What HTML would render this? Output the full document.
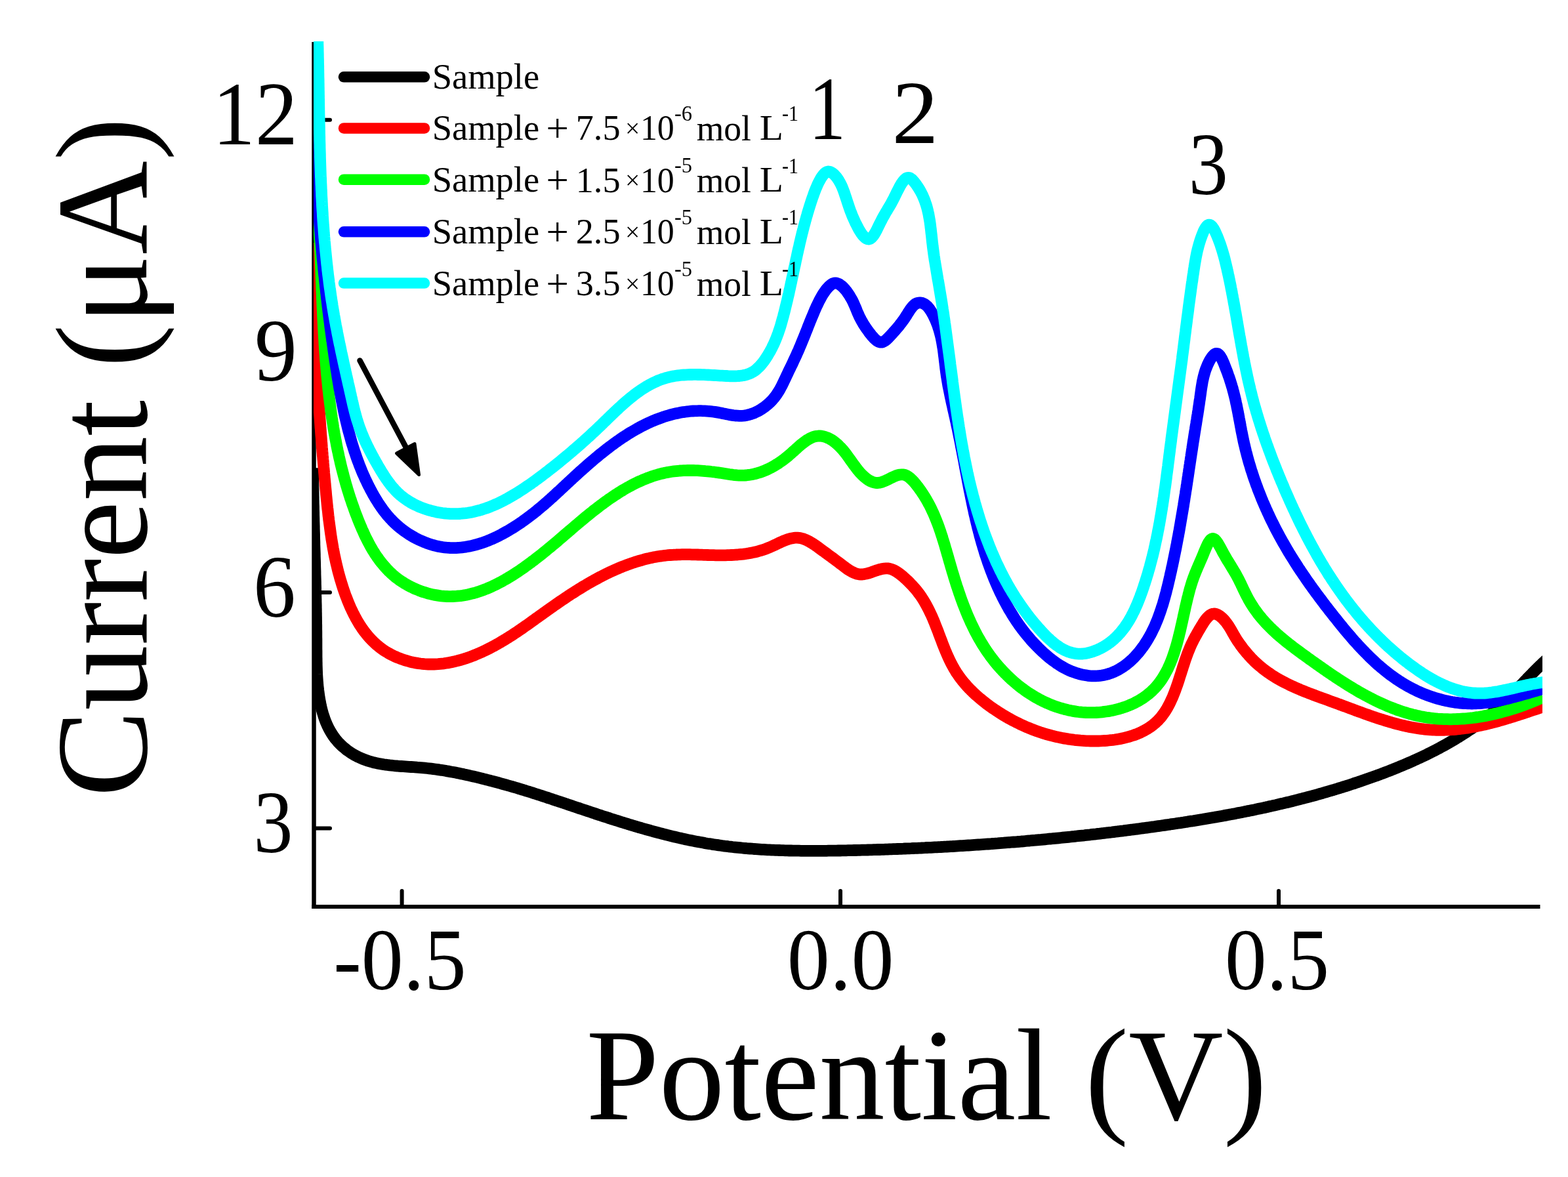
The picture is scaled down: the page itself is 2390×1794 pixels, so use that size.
<!DOCTYPE html>
<html><head><meta charset="utf-8"><title>Potential vs Current</title>
<style>html,body{margin:0;padding:0;background:#fff;}svg{display:block;}</style>
</head><body>
<svg width="2390" height="1794" viewBox="0 0 2390 1794">
<defs><clipPath id="pc"><rect x="478" y="63" width="1873" height="1330"/></clipPath></defs>
<rect width="2390" height="1794" fill="#fff"/>
<g><line x1="478.5" y1="64" x2="478.5" y2="1385" stroke="#000" stroke-width="6.5"/><line x1="475.3" y1="1382" x2="2347.5" y2="1382" stroke="#000" stroke-width="6"/><line x1="481" y1="182.8" x2="503" y2="182.8" stroke="#000" stroke-width="6" stroke-linecap="round"/><line x1="481" y1="542.5" x2="503" y2="542.5" stroke="#000" stroke-width="6" stroke-linecap="round"/><line x1="481" y1="903" x2="503" y2="903" stroke="#000" stroke-width="6" stroke-linecap="round"/><line x1="481" y1="1262.5" x2="503" y2="1262.5" stroke="#000" stroke-width="6" stroke-linecap="round"/><line x1="612.6" y1="1380" x2="612.6" y2="1358" stroke="#000" stroke-width="6" stroke-linecap="round"/><line x1="1281" y1="1380" x2="1281" y2="1358" stroke="#000" stroke-width="6" stroke-linecap="round"/><line x1="1949" y1="1380" x2="1949" y2="1358" stroke="#000" stroke-width="6" stroke-linecap="round"/></g>
<g clip-path="url(#pc)" fill="none" stroke-width="17.8" stroke-linejoin="round" stroke-linecap="butt"><path d="M477.1,713.2 L477.1,716.1 L477.1,719.1 L477.2,722.0 L477.2,725.0 L477.2,728.0 L477.3,730.9 L477.3,733.9 L477.3,736.9 L477.4,739.8 L477.4,742.8 L477.5,745.8 L477.5,748.7 L477.6,751.7 L477.6,754.7 L477.7,757.7 L477.7,760.6 L477.8,763.6 L477.8,766.6 L477.9,769.6 L478.0,772.6 L478.0,775.6 L478.1,778.5 L478.2,781.5 L478.2,784.5 L478.3,787.5 L478.4,790.5 L478.4,793.5 L478.5,796.5 L478.6,799.5 L478.7,802.5 L478.7,805.5 L478.8,808.5 L478.9,811.5 L479.0,814.5 L479.0,817.5 L479.1,820.5 L479.2,823.5 L479.3,826.5 L479.3,829.5 L479.4,832.5 L479.5,835.5 L479.6,838.5 L479.7,841.5 L479.8,844.5 L479.8,847.6 L479.9,850.6 L480.0,853.6 L480.1,856.6 L480.2,859.6 L480.2,862.6 L480.3,865.6 L480.4,868.6 L480.5,871.6 L480.5,874.7 L480.6,877.7 L480.7,880.7 L480.8,883.7 L480.9,886.7 L480.9,889.7 L481.0,892.7 L481.1,895.8 L481.1,898.8 L481.2,901.8 L481.3,904.8 L481.3,907.8 L481.4,910.8 L481.5,913.9 L481.5,916.9 L481.6,919.9 L481.7,922.9 L481.7,925.9 L481.8,928.9 L481.8,932.0 L481.9,935.0 L481.9,938.0 L482.0,941.0 L482.0,944.0 L482.1,947.0 L482.1,950.0 L482.2,953.0 L482.2,956.1 L482.2,959.1 L482.3,962.1 L482.3,965.1 L482.3,968.1 L482.3,971.1 L482.4,974.1 L482.4,977.1 L482.4,980.1 L482.4,983.1 L482.4,986.1 L482.4,989.1 L482.5,992.1 L482.5,995.2 L482.5,998.2 L482.5,1001.2 L482.6,1004.2 L482.6,1007.2 L482.7,1010.2 L482.7,1013.1 L482.8,1016.1 L482.9,1019.1 L483.0,1022.1 L483.1,1025.1 L483.2,1028.1 L483.4,1031.1 L483.6,1034.1 L483.8,1037.1 L484.0,1040.1 L484.3,1043.1 L484.5,1046.0 L484.9,1049.0 L485.2,1052.0 L485.6,1055.0 L486.0,1058.0 L486.4,1060.9 L486.9,1063.9 L487.4,1066.9 L487.9,1069.8 L488.5,1072.8 L489.1,1075.7 L489.8,1078.7 L490.5,1081.6 L491.3,1084.5 L492.1,1087.4 L493.0,1090.2 L493.9,1093.1 L494.9,1095.9 L495.9,1098.6 L497.0,1101.4 L498.2,1104.1 L499.4,1106.8 L500.7,1109.4 L502.1,1112.1 L503.5,1114.6 L505.0,1117.1 L506.6,1119.6 L508.2,1122.1 L509.9,1124.4 L511.7,1126.8 L513.6,1129.0 L515.6,1131.3 L517.6,1133.4 L519.7,1135.5 L521.9,1137.6 L524.2,1139.5 L526.5,1141.4 L528.8,1143.3 L531.3,1145.0 L533.7,1146.7 L536.2,1148.4 L538.7,1149.9 L541.3,1151.3 L543.9,1152.7 L546.5,1154.0 L549.1,1155.2 L551.8,1156.4 L554.4,1157.4 L557.1,1158.4 L559.8,1159.4 L562.6,1160.2 L565.3,1161.0 L568.1,1161.8 L570.9,1162.5 L573.7,1163.1 L576.5,1163.7 L579.4,1164.2 L582.2,1164.7 L585.1,1165.2 L588.0,1165.6 L590.9,1166.0 L593.8,1166.4 L596.7,1166.7 L599.7,1167.0 L602.6,1167.3 L605.6,1167.5 L608.6,1167.8 L611.6,1168.0 L614.6,1168.2 L617.6,1168.4 L620.6,1168.6 L623.6,1168.8 L626.6,1169.0 L629.7,1169.2 L632.7,1169.4 L635.8,1169.7 L638.8,1169.9 L641.9,1170.1 L645.0,1170.4 L648.0,1170.7 L651.1,1171.0 L654.2,1171.3 L657.3,1171.7 L660.4,1172.1 L663.4,1172.5 L666.5,1172.9 L669.6,1173.4 L672.7,1173.8 L675.8,1174.3 L678.9,1174.8 L682.0,1175.4 L685.0,1175.9 L688.1,1176.5 L691.2,1177.0 L694.3,1177.6 L697.3,1178.2 L700.4,1178.8 L703.4,1179.5 L706.5,1180.1 L709.5,1180.8 L712.6,1181.4 L715.6,1182.1 L718.6,1182.8 L721.6,1183.5 L724.6,1184.2 L727.6,1184.9 L730.6,1185.6 L733.6,1186.3 L736.5,1187.1 L739.5,1187.8 L742.4,1188.6 L745.4,1189.3 L748.3,1190.1 L751.2,1190.8 L754.1,1191.6 L757.0,1192.4 L759.9,1193.2 L762.8,1194.0 L765.7,1194.8 L768.6,1195.6 L771.5,1196.4 L774.3,1197.2 L777.2,1198.0 L780.1,1198.8 L782.9,1199.7 L785.8,1200.5 L788.6,1201.3 L791.4,1202.2 L794.3,1203.1 L797.1,1203.9 L799.9,1204.8 L802.8,1205.7 L805.6,1206.5 L808.4,1207.4 L811.2,1208.3 L814.0,1209.2 L816.8,1210.1 L819.6,1211.0 L822.4,1211.9 L825.2,1212.8 L828.0,1213.7 L830.8,1214.6 L833.6,1215.5 L836.4,1216.5 L839.2,1217.4 L842.0,1218.3 L844.8,1219.3 L847.6,1220.2 L850.4,1221.1 L853.2,1222.1 L856.1,1223.0 L858.9,1223.9 L861.7,1224.9 L864.5,1225.8 L867.3,1226.8 L870.1,1227.7 L872.9,1228.7 L875.7,1229.6 L878.6,1230.6 L881.4,1231.5 L884.2,1232.5 L887.0,1233.4 L889.9,1234.4 L892.7,1235.3 L895.5,1236.2 L898.4,1237.2 L901.2,1238.1 L904.0,1239.1 L906.9,1240.0 L909.7,1241.0 L912.6,1241.9 L915.4,1242.8 L918.3,1243.8 L921.1,1244.7 L924.0,1245.6 L926.9,1246.5 L929.7,1247.5 L932.6,1248.4 L935.4,1249.3 L938.3,1250.2 L941.2,1251.1 L944.0,1252.0 L946.9,1252.9 L949.8,1253.8 L952.7,1254.7 L955.6,1255.6 L958.4,1256.5 L961.3,1257.3 L964.2,1258.2 L967.1,1259.1 L970.0,1259.9 L972.9,1260.8 L975.8,1261.6 L978.7,1262.5 L981.5,1263.3 L984.4,1264.1 L987.3,1264.9 L990.2,1265.7 L993.1,1266.5 L996.1,1267.3 L999.0,1268.1 L1001.9,1268.9 L1004.8,1269.7 L1007.7,1270.4 L1010.6,1271.2 L1013.5,1271.9 L1016.4,1272.7 L1019.4,1273.4 L1022.3,1274.1 L1025.2,1274.8 L1028.1,1275.5 L1031.0,1276.2 L1034.0,1276.9 L1036.9,1277.5 L1039.8,1278.2 L1042.8,1278.8 L1045.7,1279.5 L1048.6,1280.1 L1051.6,1280.7 L1054.5,1281.3 L1057.4,1281.9 L1060.4,1282.5 L1063.3,1283.0 L1066.3,1283.6 L1069.2,1284.1 L1072.1,1284.6 L1075.1,1285.2 L1078.0,1285.7 L1081.0,1286.1 L1083.9,1286.6 L1086.9,1287.1 L1089.8,1287.5 L1092.8,1287.9 L1095.8,1288.4 L1098.7,1288.8 L1101.7,1289.2 L1104.6,1289.6 L1107.6,1289.9 L1110.5,1290.3 L1113.5,1290.6 L1116.5,1291.0 L1119.4,1291.3 L1122.4,1291.6 L1125.4,1291.9 L1128.3,1292.2 L1131.3,1292.5 L1134.3,1292.8 L1137.2,1293.0 L1140.2,1293.3 L1143.2,1293.5 L1146.2,1293.7 L1149.1,1294.0 L1152.1,1294.2 L1155.1,1294.4 L1158.1,1294.6 L1161.0,1294.8 L1164.0,1294.9 L1167.0,1295.1 L1170.0,1295.3 L1173.0,1295.4 L1175.9,1295.6 L1178.9,1295.7 L1181.9,1295.8 L1184.9,1295.9 L1187.9,1296.0 L1190.9,1296.1 L1193.9,1296.2 L1196.8,1296.3 L1199.8,1296.4 L1202.8,1296.5 L1205.8,1296.5 L1208.8,1296.6 L1211.8,1296.6 L1214.8,1296.7 L1217.8,1296.7 L1220.8,1296.8 L1223.8,1296.8 L1226.8,1296.8 L1229.8,1296.8 L1232.7,1296.9 L1235.7,1296.9 L1238.7,1296.9 L1241.7,1296.9 L1244.7,1296.9 L1247.7,1296.8 L1250.7,1296.8 L1253.7,1296.8 L1256.7,1296.8 L1259.7,1296.8 L1262.7,1296.7 L1265.7,1296.7 L1268.7,1296.6 L1271.7,1296.6 L1274.7,1296.6 L1277.7,1296.5 L1280.7,1296.5 L1283.7,1296.4 L1286.7,1296.3 L1289.7,1296.3 L1292.7,1296.2 L1295.7,1296.2 L1298.7,1296.1 L1301.7,1296.0 L1304.7,1296.0 L1307.7,1295.9 L1310.7,1295.8 L1313.7,1295.7 L1316.8,1295.7 L1319.8,1295.6 L1322.8,1295.5 L1325.8,1295.4 L1328.8,1295.3 L1331.8,1295.2 L1334.8,1295.1 L1337.8,1295.0 L1340.8,1295.0 L1343.8,1294.9 L1346.8,1294.8 L1349.8,1294.7 L1352.8,1294.6 L1355.8,1294.4 L1358.8,1294.3 L1361.8,1294.2 L1364.8,1294.1 L1367.8,1294.0 L1370.8,1293.9 L1373.8,1293.8 L1376.8,1293.7 L1379.8,1293.5 L1382.9,1293.4 L1385.9,1293.3 L1388.9,1293.2 L1391.9,1293.0 L1394.9,1292.9 L1397.9,1292.8 L1400.9,1292.6 L1403.9,1292.5 L1406.9,1292.3 L1409.9,1292.2 L1412.9,1292.0 L1415.9,1291.9 L1418.9,1291.8 L1421.9,1291.6 L1424.9,1291.4 L1427.9,1291.3 L1430.9,1291.1 L1433.9,1291.0 L1436.9,1290.8 L1439.9,1290.6 L1442.9,1290.5 L1446.0,1290.3 L1449.0,1290.1 L1452.0,1290.0 L1455.0,1289.8 L1458.0,1289.6 L1461.0,1289.4 L1464.0,1289.2 L1467.0,1289.1 L1470.0,1288.9 L1473.0,1288.7 L1476.0,1288.5 L1479.0,1288.3 L1482.0,1288.1 L1485.0,1287.9 L1488.0,1287.7 L1491.0,1287.5 L1494.0,1287.3 L1497.0,1287.1 L1500.0,1286.9 L1503.0,1286.7 L1506.0,1286.5 L1509.0,1286.3 L1512.0,1286.0 L1515.0,1285.8 L1518.0,1285.6 L1521.0,1285.4 L1524.0,1285.1 L1527.0,1284.9 L1530.0,1284.7 L1533.0,1284.4 L1536.0,1284.2 L1539.0,1284.0 L1542.0,1283.7 L1545.0,1283.5 L1548.0,1283.3 L1551.0,1283.0 L1554.0,1282.8 L1557.0,1282.5 L1560.0,1282.3 L1563.0,1282.0 L1566.0,1281.7 L1569.0,1281.5 L1572.0,1281.2 L1575.0,1280.9 L1578.0,1280.7 L1581.0,1280.4 L1583.9,1280.1 L1586.9,1279.9 L1589.9,1279.6 L1592.9,1279.3 L1595.9,1279.0 L1598.9,1278.7 L1601.9,1278.5 L1604.9,1278.2 L1607.9,1277.9 L1610.9,1277.6 L1613.9,1277.3 L1616.9,1277.0 L1619.8,1276.7 L1622.8,1276.4 L1625.8,1276.1 L1628.8,1275.8 L1631.8,1275.5 L1634.8,1275.2 L1637.8,1274.9 L1640.7,1274.5 L1643.7,1274.2 L1646.7,1273.9 L1649.7,1273.6 L1652.7,1273.3 L1655.7,1272.9 L1658.7,1272.6 L1661.6,1272.3 L1664.6,1271.9 L1667.6,1271.6 L1670.6,1271.3 L1673.6,1270.9 L1676.5,1270.6 L1679.5,1270.2 L1682.5,1269.9 L1685.5,1269.5 L1688.4,1269.2 L1691.4,1268.8 L1694.4,1268.5 L1697.4,1268.1 L1700.3,1267.7 L1703.3,1267.4 L1706.3,1267.0 L1709.3,1266.6 L1712.2,1266.3 L1715.2,1265.9 L1718.2,1265.5 L1721.2,1265.1 L1724.1,1264.7 L1727.1,1264.4 L1730.1,1264.0 L1733.0,1263.6 L1736.0,1263.2 L1739.0,1262.8 L1741.9,1262.4 L1744.9,1262.0 L1747.9,1261.6 L1750.8,1261.2 L1753.8,1260.8 L1756.8,1260.4 L1759.7,1260.0 L1762.7,1259.5 L1765.6,1259.1 L1768.6,1258.7 L1771.6,1258.3 L1774.5,1257.9 L1777.5,1257.4 L1780.4,1257.0 L1783.4,1256.6 L1786.3,1256.1 L1789.3,1255.7 L1792.2,1255.3 L1795.2,1254.8 L1798.2,1254.4 L1801.1,1253.9 L1804.1,1253.5 L1807.0,1253.0 L1810.0,1252.6 L1812.9,1252.1 L1815.8,1251.6 L1818.8,1251.2 L1821.7,1250.7 L1824.7,1250.2 L1827.6,1249.7 L1830.6,1249.2 L1833.5,1248.8 L1836.5,1248.3 L1839.4,1247.8 L1842.3,1247.3 L1845.3,1246.8 L1848.2,1246.3 L1851.2,1245.8 L1854.1,1245.2 L1857.0,1244.7 L1860.0,1244.2 L1862.9,1243.7 L1865.8,1243.1 L1868.8,1242.6 L1871.7,1242.1 L1874.6,1241.5 L1877.5,1241.0 L1880.5,1240.4 L1883.4,1239.9 L1886.3,1239.3 L1889.2,1238.7 L1892.2,1238.2 L1895.1,1237.6 L1898.0,1237.0 L1900.9,1236.4 L1903.9,1235.9 L1906.8,1235.3 L1909.7,1234.7 L1912.6,1234.1 L1915.5,1233.4 L1918.4,1232.8 L1921.4,1232.2 L1924.3,1231.6 L1927.2,1231.0 L1930.1,1230.3 L1933.0,1229.7 L1935.9,1229.0 L1938.8,1228.4 L1941.7,1227.7 L1944.6,1227.1 L1947.5,1226.4 L1950.4,1225.7 L1953.3,1225.0 L1956.2,1224.4 L1959.1,1223.7 L1962.0,1223.0 L1964.9,1222.3 L1967.8,1221.6 L1970.7,1220.8 L1973.6,1220.1 L1976.5,1219.4 L1979.4,1218.7 L1982.3,1217.9 L1985.2,1217.2 L1988.1,1216.4 L1991.0,1215.7 L1993.9,1214.9 L1996.8,1214.1 L1999.6,1213.4 L2002.5,1212.6 L2005.4,1211.8 L2008.3,1211.0 L2011.2,1210.2 L2014.0,1209.4 L2016.9,1208.5 L2019.8,1207.7 L2022.7,1206.9 L2025.5,1206.0 L2028.4,1205.2 L2031.3,1204.3 L2034.2,1203.5 L2037.0,1202.6 L2039.9,1201.7 L2042.8,1200.9 L2045.6,1200.0 L2048.5,1199.1 L2051.3,1198.2 L2054.2,1197.3 L2057.1,1196.3 L2059.9,1195.4 L2062.8,1194.5 L2065.6,1193.5 L2068.5,1192.6 L2071.3,1191.6 L2074.2,1190.7 L2077.0,1189.7 L2079.9,1188.7 L2082.7,1187.7 L2085.6,1186.7 L2088.4,1185.7 L2091.3,1184.7 L2094.1,1183.7 L2097.0,1182.7 L2099.8,1181.6 L2102.6,1180.6 L2105.5,1179.5 L2108.3,1178.5 L2111.1,1177.4 L2114.0,1176.3 L2116.8,1175.2 L2119.6,1174.1 L2122.4,1173.0 L2125.2,1171.9 L2128.0,1170.7 L2130.8,1169.6 L2133.6,1168.4 L2136.4,1167.3 L2139.2,1166.1 L2142.0,1164.9 L2144.8,1163.7 L2147.6,1162.5 L2150.3,1161.3 L2153.1,1160.1 L2155.9,1158.8 L2158.6,1157.6 L2161.4,1156.3 L2164.1,1155.1 L2166.9,1153.8 L2169.6,1152.5 L2172.3,1151.2 L2175.0,1149.9 L2177.7,1148.5 L2180.4,1147.2 L2183.1,1145.8 L2185.8,1144.5 L2188.5,1143.1 L2191.2,1141.7 L2193.8,1140.3 L2196.5,1138.8 L2199.1,1137.4 L2201.8,1136.0 L2204.4,1134.5 L2207.0,1133.0 L2209.6,1131.5 L2212.2,1130.0 L2214.8,1128.5 L2217.4,1127.0 L2219.9,1125.4 L2222.5,1123.9 L2225.0,1122.3 L2227.6,1120.7 L2230.1,1119.1 L2232.6,1117.5 L2235.1,1115.9 L2237.6,1114.2 L2240.1,1112.5 L2242.6,1110.9 L2245.0,1109.2 L2247.5,1107.4 L2249.9,1105.7 L2252.3,1104.0 L2254.7,1102.2 L2257.1,1100.4 L2259.5,1098.6 L2261.9,1096.8 L2264.2,1095.0 L2266.6,1093.1 L2268.9,1091.3 L2271.2,1089.4 L2273.5,1087.5 L2275.8,1085.6 L2278.1,1083.7 L2280.3,1081.7 L2282.6,1079.7 L2284.8,1077.8 L2287.0,1075.8 L2289.2,1073.7 L2291.4,1071.7 L2293.5,1069.6 L2295.7,1067.6 L2297.8,1065.5 L2299.9,1063.4 L2302.0,1061.3 L2304.1,1059.1 L2306.2,1057.0 L2308.3,1054.8 L2310.4,1052.7 L2312.5,1050.5 L2314.6,1048.4 L2316.6,1046.2 L2318.7,1044.0 L2320.8,1041.8 L2322.8,1039.7 L2324.9,1037.5 L2327.0,1035.3 L2329.0,1033.1 L2331.1,1031.0 L2333.2,1028.8 L2335.3,1026.7 L2337.4,1024.5 L2339.5,1022.4 L2341.6,1020.3 L2343.8,1018.1 L2345.9,1016.0 L2348.1,1013.9 L2350.2,1011.9 L2352.4,1009.8 L2354.6,1007.8 L2356.8,1005.8 L2359.1,1003.8 L2361.3,1001.8 L2363.6,999.8 L2365.9,997.9" stroke="#000000"/>
<path d="M479.2,370.1 L479.2,373.1 L479.2,376.0 L479.1,379.0 L479.1,382.0 L479.1,385.0 L479.1,388.0 L479.1,391.0 L479.0,394.0 L479.0,397.0 L479.0,399.9 L479.0,402.9 L479.0,405.9 L479.0,408.9 L479.0,411.9 L479.0,414.9 L479.0,417.9 L479.1,420.9 L479.1,423.9 L479.1,426.9 L479.1,429.9 L479.2,432.9 L479.2,435.9 L479.2,438.9 L479.3,441.8 L479.3,444.8 L479.3,447.8 L479.4,450.8 L479.4,453.8 L479.5,456.8 L479.5,459.8 L479.6,462.8 L479.7,465.8 L479.7,468.8 L479.8,471.8 L479.8,474.8 L479.9,477.8 L480.0,480.8 L480.1,483.8 L480.2,486.8 L480.2,489.8 L480.3,492.8 L480.4,495.8 L480.5,498.8 L480.6,501.8 L480.7,504.8 L480.8,507.8 L480.9,510.8 L481.0,513.8 L481.1,516.9 L481.2,519.9 L481.3,522.9 L481.4,525.9 L481.6,528.9 L481.7,531.9 L481.8,534.9 L481.9,537.9 L482.1,540.9 L482.2,543.9 L482.3,546.9 L482.5,549.9 L482.6,552.9 L482.7,555.9 L482.9,558.9 L483.0,561.9 L483.2,564.9 L483.3,567.9 L483.5,570.9 L483.6,573.9 L483.8,576.9 L484.0,579.9 L484.1,582.9 L484.3,585.9 L484.5,588.9 L484.6,591.9 L484.8,594.9 L485.0,597.9 L485.2,600.9 L485.3,603.9 L485.5,606.9 L485.7,609.9 L485.9,612.9 L486.1,615.9 L486.3,618.9 L486.5,621.9 L486.7,624.9 L486.9,627.9 L487.1,630.9 L487.3,633.9 L487.5,636.9 L487.7,639.9 L487.9,642.9 L488.1,645.9 L488.3,648.9 L488.5,651.9 L488.8,654.9 L489.0,657.9 L489.2,660.9 L489.4,663.9 L489.7,666.9 L489.9,669.9 L490.1,672.9 L490.4,675.8 L490.6,678.8 L490.8,681.8 L491.1,684.8 L491.3,687.8 L491.6,690.8 L491.8,693.8 L492.1,696.8 L492.3,699.8 L492.6,702.7 L492.8,705.7 L493.1,708.7 L493.3,711.7 L493.6,714.7 L493.9,717.7 L494.1,720.7 L494.4,723.6 L494.6,726.6 L494.9,729.6 L495.2,732.6 L495.5,735.6 L495.7,738.5 L496.0,741.5 L496.3,744.5 L496.6,747.5 L496.9,750.4 L497.1,753.4 L497.4,756.4 L497.7,759.4 L498.0,762.3 L498.3,765.3 L498.6,768.3 L498.9,771.2 L499.2,774.2 L499.6,777.2 L499.9,780.1 L500.2,783.1 L500.5,786.1 L500.9,789.0 L501.2,792.0 L501.6,794.9 L502.0,797.9 L502.4,800.9 L502.8,803.8 L503.2,806.8 L503.6,809.7 L504.0,812.7 L504.4,815.6 L504.9,818.6 L505.3,821.5 L505.8,824.4 L506.3,827.4 L506.8,830.3 L507.3,833.3 L507.8,836.2 L508.4,839.1 L508.9,842.1 L509.5,845.0 L510.1,847.9 L510.7,850.8 L511.4,853.8 L512.0,856.7 L512.7,859.6 L513.4,862.5 L514.1,865.4 L514.8,868.3 L515.5,871.2 L516.3,874.1 L517.1,877.0 L517.9,879.9 L518.7,882.8 L519.6,885.7 L520.5,888.6 L521.4,891.5 L522.3,894.4 L523.2,897.3 L524.2,900.2 L525.2,903.0 L526.2,905.9 L527.3,908.8 L528.4,911.6 L529.5,914.5 L530.6,917.3 L531.8,920.2 L533.0,923.0 L534.2,925.8 L535.5,928.5 L536.8,931.3 L538.1,934.0 L539.5,936.8 L540.9,939.4 L542.3,942.1 L543.8,944.8 L545.3,947.4 L546.8,949.9 L548.4,952.5 L550.1,955.0 L551.7,957.5 L553.4,959.9 L555.2,962.3 L557.0,964.7 L558.9,967.0 L560.7,969.3 L562.7,971.5 L564.7,973.7 L566.7,975.8 L568.8,977.9 L570.9,979.9 L573.1,981.9 L575.3,983.8 L577.6,985.7 L579.9,987.5 L582.3,989.2 L584.7,990.9 L587.2,992.6 L589.8,994.1 L592.3,995.6 L595.0,997.1 L597.6,998.5 L600.3,999.8 L603.0,1001.0 L605.8,1002.2 L608.6,1003.3 L611.4,1004.4 L614.3,1005.4 L617.1,1006.4 L620.0,1007.2 L623.0,1008.0 L625.9,1008.8 L628.8,1009.5 L631.8,1010.1 L634.8,1010.6 L637.8,1011.1 L640.8,1011.5 L643.8,1011.8 L646.8,1012.1 L649.8,1012.3 L652.8,1012.5 L655.8,1012.5 L658.8,1012.5 L661.8,1012.5 L664.8,1012.4 L667.8,1012.2 L670.8,1011.9 L673.7,1011.6 L676.7,1011.3 L679.7,1010.8 L682.6,1010.4 L685.6,1009.8 L688.5,1009.2 L691.5,1008.6 L694.4,1007.9 L697.4,1007.2 L700.3,1006.4 L703.2,1005.6 L706.1,1004.7 L709.0,1003.8 L711.8,1002.8 L714.7,1001.8 L717.6,1000.8 L720.4,999.7 L723.2,998.6 L726.1,997.4 L728.9,996.3 L731.7,995.0 L734.4,993.8 L737.2,992.5 L739.9,991.2 L742.7,989.9 L745.4,988.5 L748.1,987.1 L750.8,985.7 L753.4,984.3 L756.1,982.8 L758.7,981.4 L761.3,979.9 L763.9,978.3 L766.5,976.8 L769.1,975.3 L771.6,973.7 L774.1,972.2 L776.6,970.6 L779.1,969.0 L781.6,967.4 L784.1,965.7 L786.5,964.1 L789.0,962.5 L791.4,960.8 L793.9,959.1 L796.3,957.5 L798.7,955.8 L801.1,954.1 L803.5,952.4 L805.9,950.7 L808.3,949.0 L810.7,947.3 L813.1,945.6 L815.5,943.8 L817.9,942.1 L820.3,940.4 L822.7,938.6 L825.2,936.9 L827.6,935.2 L830.0,933.4 L832.4,931.7 L834.8,930.0 L837.3,928.2 L839.7,926.5 L842.2,924.8 L844.6,923.0 L847.1,921.3 L849.6,919.6 L852.1,917.9 L854.6,916.2 L857.1,914.5 L859.6,912.8 L862.1,911.1 L864.7,909.4 L867.2,907.7 L869.7,906.1 L872.3,904.4 L874.9,902.8 L877.4,901.1 L880.0,899.5 L882.6,897.9 L885.2,896.3 L887.8,894.7 L890.4,893.1 L893.0,891.6 L895.6,890.0 L898.3,888.5 L900.9,887.0 L903.6,885.5 L906.2,884.0 L908.9,882.6 L911.6,881.1 L914.2,879.7 L916.9,878.3 L919.6,876.9 L922.3,875.6 L925.0,874.2 L927.8,872.9 L930.5,871.6 L933.2,870.4 L936.0,869.1 L938.7,867.9 L941.5,866.7 L944.2,865.5 L947.0,864.4 L949.8,863.3 L952.6,862.2 L955.4,861.1 L958.2,860.1 L961.0,859.1 L963.8,858.1 L966.6,857.2 L969.4,856.3 L972.3,855.4 L975.1,854.6 L978.0,853.8 L980.8,853.0 L983.7,852.2 L986.6,851.5 L989.5,850.9 L992.4,850.2 L995.3,849.6 L998.2,849.1 L1001.1,848.5 L1004.0,848.0 L1006.9,847.6 L1009.8,847.2 L1012.8,846.8 L1015.7,846.5 L1018.7,846.2 L1021.6,846.0 L1024.6,845.8 L1027.6,845.6 L1030.6,845.5 L1033.5,845.3 L1036.5,845.3 L1039.5,845.2 L1042.5,845.2 L1045.5,845.2 L1048.5,845.2 L1051.5,845.2 L1054.6,845.3 L1057.6,845.4 L1060.6,845.4 L1063.6,845.5 L1066.6,845.6 L1069.7,845.7 L1072.7,845.8 L1075.7,845.9 L1078.7,846.0 L1081.8,846.1 L1084.8,846.1 L1087.8,846.2 L1090.8,846.3 L1093.8,846.3 L1096.9,846.3 L1099.9,846.3 L1102.9,846.3 L1105.9,846.3 L1108.9,846.2 L1111.9,846.2 L1114.9,846.0 L1117.9,845.9 L1120.9,845.7 L1123.9,845.5 L1126.9,845.2 L1129.9,844.9 L1132.9,844.6 L1135.8,844.2 L1138.8,843.8 L1141.7,843.3 L1144.7,842.7 L1147.6,842.1 L1150.6,841.5 L1153.5,840.8 L1156.4,840.0 L1159.3,839.2 L1162.2,838.3 L1165.1,837.3 L1168.0,836.3 L1170.8,835.1 L1173.7,834.0 L1176.5,832.7 L1179.4,831.4 L1182.2,830.1 L1185.0,828.7 L1187.8,827.4 L1190.6,826.1 L1193.4,824.9 L1196.2,823.8 L1198.9,822.7 L1201.7,821.8 L1204.4,821.0 L1207.2,820.4 L1209.9,819.9 L1212.6,819.7 L1215.3,819.6 L1218.0,819.9 L1220.7,820.3 L1223.4,821.0 L1226.0,821.9 L1228.7,823.0 L1231.4,824.3 L1234.0,825.7 L1236.6,827.2 L1239.3,828.9 L1241.9,830.6 L1244.5,832.4 L1247.1,834.3 L1249.7,836.2 L1252.2,838.1 L1254.8,840.0 L1257.4,841.8 L1259.9,843.7 L1262.5,845.6 L1265.0,847.5 L1267.6,849.3 L1270.1,851.2 L1272.7,853.1 L1275.2,855.0 L1277.8,856.9 L1280.3,858.8 L1282.9,860.8 L1285.5,862.8 L1288.0,864.7 L1290.6,866.6 L1293.2,868.4 L1295.8,870.0 L1298.5,871.5 L1301.1,872.8 L1303.7,873.9 L1306.4,874.8 L1309.1,875.3 L1311.8,875.5 L1314.5,875.5 L1317.3,875.1 L1320.0,874.6 L1322.8,873.9 L1325.5,873.1 L1328.3,872.2 L1331.1,871.2 L1333.9,870.2 L1336.6,869.3 L1339.4,868.4 L1342.2,867.6 L1344.9,867.0 L1347.7,866.6 L1350.4,866.4 L1353.1,866.4 L1355.8,866.8 L1358.5,867.5 L1361.1,868.5 L1363.7,869.8 L1366.3,871.3 L1368.9,873.0 L1371.4,874.8 L1373.9,876.8 L1376.4,878.8 L1378.8,881.0 L1381.2,883.1 L1383.5,885.3 L1385.8,887.5 L1388.0,889.8 L1390.2,892.1 L1392.3,894.4 L1394.4,896.7 L1396.4,899.1 L1398.3,901.5 L1400.2,904.0 L1402.0,906.4 L1403.8,908.9 L1405.5,911.5 L1407.1,914.0 L1408.7,916.6 L1410.2,919.2 L1411.7,921.9 L1413.1,924.5 L1414.5,927.2 L1415.9,929.9 L1417.2,932.6 L1418.5,935.3 L1419.8,938.0 L1421.0,940.8 L1422.2,943.5 L1423.3,946.3 L1424.5,949.1 L1425.6,951.9 L1426.7,954.7 L1427.8,957.5 L1428.9,960.3 L1430.0,963.1 L1431.0,965.9 L1432.1,968.7 L1433.1,971.5 L1434.2,974.3 L1435.3,977.1 L1436.3,979.9 L1437.4,982.7 L1438.5,985.5 L1439.6,988.3 L1440.7,991.0 L1441.9,993.8 L1443.0,996.5 L1444.2,999.2 L1445.4,1001.9 L1446.7,1004.6 L1448.0,1007.3 L1449.3,1009.9 L1450.6,1012.5 L1452.0,1015.1 L1453.5,1017.7 L1454.9,1020.3 L1456.5,1022.8 L1458.0,1025.3 L1459.7,1027.7 L1461.4,1030.2 L1463.1,1032.6 L1464.9,1035.0 L1466.7,1037.3 L1468.6,1039.6 L1470.5,1041.9 L1472.5,1044.2 L1474.5,1046.4 L1476.5,1048.6 L1478.6,1050.7 L1480.8,1052.9 L1482.9,1055.0 L1485.1,1057.1 L1487.3,1059.1 L1489.6,1061.1 L1491.9,1063.1 L1494.2,1065.1 L1496.6,1067.0 L1498.9,1068.9 L1501.3,1070.8 L1503.7,1072.7 L1506.2,1074.5 L1508.6,1076.3 L1511.1,1078.1 L1513.6,1079.8 L1516.1,1081.5 L1518.6,1083.2 L1521.2,1084.9 L1523.7,1086.5 L1526.3,1088.1 L1528.8,1089.7 L1531.4,1091.2 L1534.0,1092.8 L1536.6,1094.3 L1539.2,1095.7 L1541.9,1097.2 L1544.5,1098.6 L1547.1,1099.9 L1549.8,1101.3 L1552.5,1102.6 L1555.2,1103.9 L1557.9,1105.2 L1560.6,1106.4 L1563.3,1107.6 L1566.0,1108.8 L1568.8,1109.9 L1571.5,1111.0 L1574.3,1112.1 L1577.0,1113.1 L1579.8,1114.2 L1582.6,1115.1 L1585.4,1116.1 L1588.2,1117.0 L1591.1,1117.9 L1593.9,1118.8 L1596.8,1119.6 L1599.6,1120.4 L1602.5,1121.2 L1605.4,1121.9 L1608.2,1122.6 L1611.2,1123.3 L1614.1,1123.9 L1617.0,1124.5 L1619.9,1125.1 L1622.9,1125.6 L1625.8,1126.1 L1628.8,1126.6 L1631.7,1127.0 L1634.7,1127.4 L1637.7,1127.8 L1640.7,1128.1 L1643.7,1128.4 L1646.8,1128.7 L1649.8,1128.9 L1652.8,1129.1 L1655.9,1129.3 L1658.9,1129.4 L1662.0,1129.5 L1665.1,1129.5 L1668.2,1129.5 L1671.3,1129.5 L1674.4,1129.5 L1677.5,1129.4 L1680.6,1129.2 L1683.7,1129.0 L1686.8,1128.8 L1689.8,1128.5 L1692.9,1128.2 L1696.0,1127.9 L1699.0,1127.5 L1702.1,1127.0 L1705.1,1126.5 L1708.1,1125.9 L1711.0,1125.3 L1714.0,1124.6 L1716.9,1123.9 L1719.8,1123.2 L1722.7,1122.3 L1725.5,1121.4 L1728.3,1120.5 L1731.1,1119.5 L1733.8,1118.4 L1736.5,1117.3 L1739.1,1116.1 L1741.7,1114.8 L1744.3,1113.5 L1746.8,1112.1 L1749.2,1110.7 L1751.6,1109.1 L1754.0,1107.5 L1756.2,1105.9 L1758.5,1104.1 L1760.6,1102.3 L1762.7,1100.4 L1764.7,1098.5 L1766.7,1096.4 L1768.6,1094.3 L1770.4,1092.1 L1772.1,1089.8 L1773.8,1087.5 L1775.5,1085.1 L1777.0,1082.7 L1778.6,1080.1 L1780.0,1077.6 L1781.4,1075.0 L1782.8,1072.3 L1784.1,1069.6 L1785.4,1066.8 L1786.7,1064.0 L1787.9,1061.2 L1789.0,1058.3 L1790.2,1055.4 L1791.3,1052.5 L1792.4,1049.5 L1793.4,1046.6 L1794.5,1043.6 L1795.5,1040.6 L1796.5,1037.6 L1797.5,1034.5 L1798.4,1031.5 L1799.4,1028.5 L1800.4,1025.5 L1801.3,1022.5 L1802.3,1019.4 L1803.2,1016.4 L1804.2,1013.5 L1805.2,1010.5 L1806.1,1007.6 L1807.1,1004.7 L1808.1,1001.8 L1809.2,998.9 L1810.2,996.1 L1811.3,993.3 L1812.4,990.6 L1813.5,987.9 L1814.6,985.2 L1815.8,982.6 L1817.0,980.0 L1818.3,977.4 L1819.5,974.9 L1820.9,972.4 L1822.2,969.8 L1823.7,967.3 L1825.1,964.7 L1826.6,962.1 L1828.2,959.4 L1829.8,956.7 L1831.4,954.0 L1833.2,951.2 L1834.9,948.4 L1836.8,945.7 L1838.6,943.2 L1840.6,941.0 L1842.6,939.0 L1844.7,937.4 L1846.9,936.3 L1849.1,935.6 L1851.4,935.5 L1853.7,936.0 L1856.1,937.0 L1858.5,938.4 L1860.9,940.2 L1863.2,942.2 L1865.4,944.5 L1867.6,947.0 L1869.6,949.5 L1871.4,952.1 L1873.1,954.6 L1874.7,957.2 L1876.3,959.8 L1877.7,962.4 L1879.2,965.0 L1880.7,967.6 L1882.2,970.2 L1883.8,972.8 L1885.4,975.4 L1887.1,977.9 L1888.9,980.5 L1890.6,983.0 L1892.5,985.5 L1894.3,988.0 L1896.2,990.4 L1898.2,992.8 L1900.2,995.2 L1902.2,997.5 L1904.2,999.8 L1906.3,1002.1 L1908.4,1004.3 L1910.6,1006.5 L1912.7,1008.6 L1914.9,1010.6 L1917.1,1012.6 L1919.4,1014.6 L1921.7,1016.5 L1924.0,1018.4 L1926.3,1020.2 L1928.6,1022.0 L1931.0,1023.7 L1933.4,1025.4 L1935.8,1027.0 L1938.2,1028.7 L1940.6,1030.2 L1943.1,1031.8 L1945.6,1033.3 L1948.1,1034.8 L1950.6,1036.2 L1953.2,1037.6 L1955.7,1039.0 L1958.3,1040.3 L1960.9,1041.6 L1963.5,1042.9 L1966.1,1044.2 L1968.8,1045.5 L1971.4,1046.7 L1974.1,1047.9 L1976.8,1049.1 L1979.5,1050.2 L1982.2,1051.4 L1984.9,1052.5 L1987.7,1053.6 L1990.4,1054.7 L1993.2,1055.8 L1995.9,1056.9 L1998.7,1057.9 L2001.5,1059.0 L2004.3,1060.0 L2007.1,1061.1 L2009.9,1062.1 L2012.7,1063.1 L2015.5,1064.2 L2018.3,1065.2 L2021.2,1066.2 L2024.0,1067.2 L2026.8,1068.3 L2029.7,1069.3 L2032.5,1070.3 L2035.4,1071.4 L2038.2,1072.4 L2041.1,1073.5 L2044.0,1074.5 L2046.8,1075.6 L2049.7,1076.7 L2052.6,1077.7 L2055.4,1078.8 L2058.3,1079.9 L2061.2,1080.9 L2064.1,1082.0 L2066.9,1083.1 L2069.8,1084.1 L2072.7,1085.2 L2075.6,1086.2 L2078.5,1087.3 L2081.4,1088.3 L2084.3,1089.3 L2087.1,1090.4 L2090.0,1091.4 L2092.9,1092.4 L2095.8,1093.3 L2098.7,1094.3 L2101.6,1095.3 L2104.5,1096.2 L2107.4,1097.1 L2110.4,1098.1 L2113.3,1098.9 L2116.2,1099.8 L2119.1,1100.7 L2122.0,1101.5 L2124.9,1102.3 L2127.8,1103.1 L2130.7,1103.9 L2133.7,1104.6 L2136.6,1105.3 L2139.5,1106.0 L2142.4,1106.7 L2145.3,1107.3 L2148.3,1107.9 L2151.2,1108.5 L2154.1,1109.0 L2157.0,1109.5 L2160.0,1110.0 L2162.9,1110.5 L2165.8,1110.9 L2168.7,1111.2 L2171.7,1111.6 L2174.6,1111.9 L2177.5,1112.1 L2180.5,1112.4 L2183.4,1112.5 L2186.3,1112.7 L2189.2,1112.8 L2192.2,1112.8 L2195.1,1112.9 L2198.0,1112.8 L2201.0,1112.8 L2203.9,1112.7 L2206.8,1112.6 L2209.8,1112.4 L2212.7,1112.2 L2215.6,1112.0 L2218.6,1111.8 L2221.5,1111.5 L2224.4,1111.2 L2227.3,1110.8 L2230.3,1110.4 L2233.2,1110.0 L2236.1,1109.6 L2239.1,1109.1 L2242.0,1108.6 L2244.9,1108.1 L2247.9,1107.6 L2250.8,1107.0 L2253.7,1106.4 L2256.6,1105.8 L2259.6,1105.1 L2262.5,1104.5 L2265.4,1103.8 L2268.3,1103.1 L2271.2,1102.4 L2274.2,1101.6 L2277.1,1100.9 L2280.0,1100.1 L2282.9,1099.3 L2285.8,1098.5 L2288.7,1097.7 L2291.7,1096.8 L2294.6,1096.0 L2297.5,1095.1 L2300.4,1094.2 L2303.3,1093.3 L2306.2,1092.4 L2309.1,1091.5 L2312.0,1090.6 L2314.9,1089.7 L2317.8,1088.7 L2320.7,1087.8 L2323.6,1086.8 L2326.5,1085.8 L2329.4,1084.9 L2332.3,1083.9 L2335.2,1082.9 L2338.1,1081.9 L2341.0,1081.0 L2343.8,1080.0 L2346.7,1079.0 L2349.6,1078.0 L2352.5,1077.0" stroke="#ff0000"/>
<path d="M478.4,244.9 L478.8,247.9 L479.1,250.9 L479.4,253.9 L479.7,256.9 L480.0,259.9 L480.3,263.0 L480.6,266.0 L480.9,269.0 L481.2,272.0 L481.4,275.0 L481.7,278.0 L481.9,281.0 L482.2,284.0 L482.4,287.0 L482.7,290.0 L482.9,293.0 L483.1,296.0 L483.4,299.0 L483.6,302.0 L483.8,305.0 L484.0,308.0 L484.2,311.0 L484.4,314.0 L484.6,317.0 L484.8,320.0 L485.0,323.0 L485.2,326.0 L485.4,329.0 L485.5,332.0 L485.7,335.0 L485.9,338.0 L486.0,340.9 L486.2,343.9 L486.4,346.9 L486.5,349.9 L486.7,352.9 L486.8,355.9 L487.0,358.9 L487.1,361.9 L487.2,364.9 L487.4,367.8 L487.5,370.8 L487.6,373.8 L487.8,376.8 L487.9,379.8 L488.0,382.8 L488.2,385.7 L488.3,388.7 L488.4,391.7 L488.5,394.7 L488.7,397.7 L488.8,400.7 L488.9,403.6 L489.0,406.6 L489.1,409.6 L489.3,412.6 L489.4,415.6 L489.5,418.6 L489.6,421.5 L489.7,424.5 L489.8,427.5 L490.0,430.5 L490.1,433.5 L490.2,436.4 L490.3,439.4 L490.4,442.4 L490.6,445.4 L490.7,448.4 L490.8,451.3 L490.9,454.3 L491.1,457.3 L491.2,460.3 L491.3,463.3 L491.4,466.3 L491.6,469.2 L491.7,472.2 L491.9,475.2 L492.0,478.2 L492.1,481.2 L492.3,484.1 L492.4,487.1 L492.6,490.1 L492.7,493.1 L492.9,496.1 L493.0,499.1 L493.2,502.1 L493.4,505.0 L493.5,508.0 L493.7,511.0 L493.9,514.0 L494.1,517.0 L494.3,520.0 L494.4,523.0 L494.6,526.0 L494.8,528.9 L495.0,531.9 L495.2,534.9 L495.4,537.9 L495.7,540.9 L495.9,543.9 L496.1,546.9 L496.3,549.9 L496.6,552.9 L496.8,555.9 L497.1,558.9 L497.3,561.9 L497.6,564.9 L497.8,567.9 L498.1,570.9 L498.4,573.9 L498.7,576.9 L499.0,579.9 L499.3,582.9 L499.6,585.9 L499.9,588.9 L500.2,591.8 L500.5,594.8 L500.9,597.8 L501.2,600.8 L501.5,603.8 L501.9,606.8 L502.3,609.8 L502.6,612.8 L503.0,615.8 L503.4,618.8 L503.8,621.8 L504.2,624.8 L504.6,627.8 L505.0,630.7 L505.5,633.7 L505.9,636.7 L506.4,639.7 L506.8,642.7 L507.3,645.6 L507.8,648.6 L508.2,651.6 L508.7,654.6 L509.2,657.5 L509.7,660.5 L510.3,663.5 L510.8,666.4 L511.4,669.4 L511.9,672.3 L512.5,675.3 L513.0,678.2 L513.6,681.2 L514.2,684.1 L514.8,687.1 L515.5,690.0 L516.1,693.0 L516.7,695.9 L517.4,698.8 L518.1,701.8 L518.7,704.7 L519.4,707.6 L520.1,710.5 L520.8,713.4 L521.6,716.3 L522.3,719.2 L523.1,722.1 L523.8,725.0 L524.6,727.9 L525.4,730.8 L526.2,733.7 L527.0,736.6 L527.8,739.5 L528.7,742.3 L529.5,745.2 L530.4,748.1 L531.3,750.9 L532.2,753.8 L533.1,756.6 L534.0,759.5 L535.0,762.3 L535.9,765.1 L536.9,768.0 L537.9,770.8 L538.9,773.6 L539.9,776.4 L540.9,779.2 L541.9,782.0 L543.0,784.8 L544.1,787.6 L545.2,790.4 L546.3,793.2 L547.4,796.0 L548.5,798.7 L549.7,801.5 L550.9,804.2 L552.0,807.0 L553.3,809.7 L554.5,812.4 L555.7,815.1 L557.0,817.8 L558.3,820.5 L559.7,823.2 L561.0,825.8 L562.4,828.4 L563.8,831.0 L565.2,833.6 L566.7,836.1 L568.2,838.7 L569.8,841.2 L571.3,843.7 L572.9,846.1 L574.6,848.6 L576.3,850.9 L578.0,853.3 L579.7,855.6 L581.5,857.9 L583.4,860.2 L585.3,862.4 L587.2,864.6 L589.2,866.8 L591.2,868.9 L593.2,871.0 L595.4,873.0 L597.5,875.0 L599.7,877.0 L602.0,878.9 L604.3,880.7 L606.7,882.5 L609.1,884.3 L611.6,886.0 L614.1,887.6 L616.7,889.3 L619.4,890.8 L622.0,892.3 L624.8,893.7 L627.5,895.1 L630.4,896.5 L633.2,897.7 L636.1,898.9 L639.0,900.1 L641.9,901.2 L644.9,902.2 L647.8,903.1 L650.8,904.0 L653.8,904.9 L656.9,905.6 L659.9,906.3 L662.9,906.9 L666.0,907.4 L669.0,907.9 L672.1,908.3 L675.1,908.6 L678.2,908.9 L681.2,909.0 L684.2,909.1 L687.2,909.1 L690.2,909.0 L693.2,908.9 L696.1,908.7 L699.1,908.4 L702.1,908.1 L705.0,907.7 L707.9,907.2 L710.8,906.7 L713.7,906.1 L716.6,905.4 L719.5,904.7 L722.4,904.0 L725.2,903.2 L728.1,902.3 L730.9,901.4 L733.7,900.4 L736.5,899.4 L739.3,898.3 L742.1,897.2 L744.9,896.0 L747.6,894.8 L750.4,893.6 L753.1,892.3 L755.8,891.0 L758.5,889.6 L761.2,888.2 L763.9,886.8 L766.5,885.4 L769.1,883.9 L771.8,882.4 L774.4,880.8 L777.0,879.3 L779.5,877.7 L782.1,876.1 L784.6,874.5 L787.2,872.8 L789.7,871.2 L792.2,869.5 L794.6,867.8 L797.1,866.1 L799.5,864.4 L801.9,862.6 L804.3,860.9 L806.7,859.1 L809.1,857.4 L811.4,855.6 L813.8,853.9 L816.1,852.1 L818.4,850.3 L820.7,848.5 L823.0,846.7 L825.3,844.9 L827.6,843.1 L829.8,841.2 L832.1,839.4 L834.4,837.5 L836.6,835.7 L838.9,833.8 L841.1,831.9 L843.4,830.1 L845.6,828.2 L847.9,826.3 L850.1,824.4 L852.4,822.4 L854.6,820.5 L856.9,818.6 L859.1,816.6 L861.4,814.7 L863.7,812.7 L866.0,810.8 L868.3,808.8 L870.6,806.9 L872.9,804.9 L875.2,802.9 L877.5,800.9 L879.8,799.0 L882.2,797.0 L884.5,795.0 L886.8,793.1 L889.2,791.1 L891.5,789.2 L893.9,787.2 L896.3,785.3 L898.6,783.4 L901.0,781.5 L903.4,779.5 L905.8,777.6 L908.2,775.8 L910.7,773.9 L913.1,772.0 L915.5,770.2 L918.0,768.4 L920.4,766.5 L922.9,764.7 L925.4,763.0 L927.8,761.2 L930.3,759.5 L932.8,757.8 L935.3,756.1 L937.8,754.4 L940.4,752.8 L942.9,751.1 L945.5,749.5 L948.0,748.0 L950.6,746.4 L953.2,744.9 L955.8,743.4 L958.4,742.0 L961.0,740.6 L963.6,739.2 L966.2,737.8 L968.9,736.5 L971.5,735.2 L974.2,734.0 L976.9,732.8 L979.6,731.6 L982.3,730.5 L985.0,729.4 L987.7,728.3 L990.5,727.3 L993.2,726.3 L996.0,725.4 L998.8,724.5 L1001.6,723.7 L1004.4,722.9 L1007.2,722.2 L1010.0,721.5 L1012.9,720.8 L1015.7,720.3 L1018.6,719.7 L1021.5,719.2 L1024.4,718.8 L1027.3,718.4 L1030.3,718.1 L1033.2,717.8 L1036.1,717.5 L1039.1,717.3 L1042.1,717.2 L1045.1,717.1 L1048.1,717.0 L1051.0,717.0 L1054.1,717.0 L1057.1,717.0 L1060.1,717.1 L1063.1,717.2 L1066.1,717.4 L1069.1,717.6 L1072.2,717.8 L1075.2,718.1 L1078.2,718.3 L1081.3,718.6 L1084.3,719.0 L1087.4,719.3 L1090.4,719.7 L1093.4,720.2 L1096.5,720.6 L1099.5,721.0 L1102.5,721.5 L1105.5,722.0 L1108.6,722.5 L1111.6,723.0 L1114.6,723.4 L1117.6,723.8 L1120.6,724.1 L1123.5,724.4 L1126.5,724.6 L1129.5,724.6 L1132.4,724.6 L1135.4,724.5 L1138.3,724.3 L1141.2,723.9 L1144.1,723.5 L1147.0,723.0 L1149.9,722.4 L1152.8,721.6 L1155.6,720.8 L1158.5,719.9 L1161.3,719.0 L1164.1,717.9 L1166.9,716.7 L1169.6,715.5 L1172.4,714.2 L1175.1,712.8 L1177.8,711.4 L1180.5,709.8 L1183.1,708.2 L1185.8,706.6 L1188.4,704.8 L1191.0,703.0 L1193.5,701.2 L1196.1,699.2 L1198.6,697.2 L1201.1,695.2 L1203.5,693.1 L1206.0,691.0 L1208.4,688.8 L1210.8,686.7 L1213.2,684.5 L1215.6,682.4 L1217.9,680.3 L1220.3,678.2 L1222.6,676.3 L1225.0,674.4 L1227.4,672.7 L1229.8,671.0 L1232.2,669.6 L1234.6,668.2 L1237.1,667.1 L1239.6,666.1 L1242.1,665.3 L1244.6,664.8 L1247.2,664.5 L1249.8,664.5 L1252.5,664.7 L1255.2,665.2 L1257.9,666.0 L1260.6,667.0 L1263.3,668.2 L1266.0,669.6 L1268.6,671.2 L1271.1,672.9 L1273.5,674.8 L1275.9,676.8 L1278.2,679.0 L1280.4,681.2 L1282.6,683.5 L1284.7,685.8 L1286.7,688.2 L1288.6,690.7 L1290.5,693.1 L1292.3,695.6 L1294.1,698.1 L1295.8,700.5 L1297.6,703.0 L1299.3,705.4 L1301.0,707.8 L1302.8,710.2 L1304.6,712.6 L1306.4,715.0 L1308.3,717.3 L1310.3,719.7 L1312.4,722.0 L1314.6,724.2 L1316.9,726.4 L1319.4,728.5 L1321.9,730.4 L1324.4,732.1 L1327.1,733.5 L1329.8,734.7 L1332.6,735.5 L1335.4,736.0 L1338.2,736.0 L1341.1,735.6 L1344.0,734.9 L1346.9,733.8 L1349.8,732.6 L1352.6,731.3 L1355.5,729.8 L1358.3,728.4 L1361.1,727.1 L1363.9,725.9 L1366.6,724.8 L1369.2,724.0 L1371.8,723.5 L1374.4,723.3 L1376.9,723.4 L1379.4,724.0 L1381.8,725.0 L1384.2,726.4 L1386.5,728.1 L1388.7,730.1 L1390.9,732.2 L1393.1,734.6 L1395.2,737.0 L1397.2,739.6 L1399.2,742.1 L1401.1,744.7 L1402.9,747.2 L1404.7,749.8 L1406.4,752.4 L1408.1,755.0 L1409.8,757.7 L1411.4,760.3 L1412.9,763.0 L1414.4,765.6 L1415.8,768.3 L1417.3,771.0 L1418.6,773.7 L1419.9,776.4 L1421.2,779.2 L1422.5,781.9 L1423.7,784.6 L1424.9,787.4 L1426.0,790.2 L1427.1,792.9 L1428.2,795.7 L1429.3,798.5 L1430.3,801.3 L1431.3,804.1 L1432.3,806.9 L1433.3,809.7 L1434.2,812.6 L1435.1,815.4 L1436.1,818.2 L1436.9,821.1 L1437.8,823.9 L1438.7,826.8 L1439.6,829.6 L1440.4,832.5 L1441.2,835.4 L1442.1,838.2 L1442.9,841.1 L1443.7,844.0 L1444.6,846.9 L1445.4,849.7 L1446.2,852.6 L1447.0,855.5 L1447.9,858.4 L1448.7,861.2 L1449.5,864.1 L1450.4,867.0 L1451.2,869.9 L1452.1,872.8 L1453.0,875.6 L1453.8,878.5 L1454.7,881.4 L1455.6,884.3 L1456.5,887.1 L1457.4,890.0 L1458.3,892.9 L1459.3,895.7 L1460.2,898.6 L1461.2,901.4 L1462.1,904.3 L1463.1,907.1 L1464.1,909.9 L1465.1,912.8 L1466.1,915.6 L1467.2,918.4 L1468.2,921.2 L1469.3,924.0 L1470.4,926.8 L1471.5,929.6 L1472.6,932.3 L1473.7,935.1 L1474.9,937.9 L1476.1,940.6 L1477.3,943.3 L1478.5,946.1 L1479.7,948.8 L1481.0,951.5 L1482.3,954.2 L1483.6,956.9 L1484.9,959.5 L1486.2,962.2 L1487.6,964.8 L1489.0,967.5 L1490.4,970.1 L1491.9,972.7 L1493.4,975.3 L1494.9,977.9 L1496.4,980.4 L1498.0,983.0 L1499.6,985.5 L1501.2,988.0 L1502.8,990.5 L1504.5,993.0 L1506.2,995.4 L1508.0,997.9 L1509.7,1000.3 L1511.5,1002.7 L1513.4,1005.1 L1515.2,1007.5 L1517.1,1009.8 L1519.1,1012.2 L1521.0,1014.5 L1523.0,1016.7 L1525.0,1019.0 L1527.1,1021.2 L1529.1,1023.4 L1531.2,1025.6 L1533.4,1027.8 L1535.5,1029.9 L1537.7,1032.0 L1539.9,1034.1 L1542.1,1036.1 L1544.4,1038.1 L1546.7,1040.1 L1549.0,1042.1 L1551.3,1044.0 L1553.7,1045.9 L1556.0,1047.7 L1558.5,1049.6 L1560.9,1051.3 L1563.3,1053.1 L1565.8,1054.8 L1568.3,1056.5 L1570.8,1058.1 L1573.4,1059.7 L1575.9,1061.3 L1578.5,1062.8 L1581.1,1064.2 L1583.8,1065.7 L1586.4,1067.1 L1589.1,1068.4 L1591.8,1069.7 L1594.5,1071.0 L1597.2,1072.2 L1600.0,1073.4 L1602.7,1074.5 L1605.5,1075.6 L1608.3,1076.6 L1611.1,1077.6 L1614.0,1078.5 L1616.8,1079.4 L1619.7,1080.2 L1622.6,1081.0 L1625.5,1081.7 L1628.4,1082.4 L1631.4,1083.0 L1634.3,1083.6 L1637.3,1084.1 L1640.3,1084.6 L1643.3,1085.0 L1646.3,1085.3 L1649.3,1085.6 L1652.3,1085.8 L1655.4,1086.0 L1658.4,1086.1 L1661.5,1086.2 L1664.5,1086.2 L1667.6,1086.1 L1670.7,1086.0 L1673.7,1085.8 L1676.8,1085.6 L1679.8,1085.3 L1682.9,1084.9 L1685.9,1084.5 L1688.9,1084.1 L1691.9,1083.6 L1694.9,1083.0 L1697.9,1082.3 L1700.8,1081.6 L1703.8,1080.9 L1706.7,1080.1 L1709.6,1079.2 L1712.4,1078.3 L1715.3,1077.3 L1718.1,1076.3 L1720.9,1075.2 L1723.6,1074.0 L1726.3,1072.8 L1729.0,1071.6 L1731.6,1070.2 L1734.2,1068.8 L1736.7,1067.4 L1739.2,1065.9 L1741.6,1064.4 L1744.0,1062.7 L1746.4,1061.1 L1748.7,1059.3 L1750.9,1057.5 L1753.1,1055.7 L1755.2,1053.8 L1757.3,1051.8 L1759.3,1049.8 L1761.3,1047.7 L1763.1,1045.6 L1764.9,1043.4 L1766.7,1041.2 L1768.4,1038.9 L1770.1,1036.5 L1771.7,1034.2 L1773.2,1031.7 L1774.7,1029.2 L1776.1,1026.7 L1777.5,1024.1 L1778.9,1021.5 L1780.2,1018.9 L1781.4,1016.2 L1782.6,1013.5 L1783.8,1010.7 L1784.9,1008.0 L1786.0,1005.2 L1787.1,1002.3 L1788.1,999.4 L1789.1,996.5 L1790.1,993.6 L1791.0,990.7 L1791.9,987.7 L1792.8,984.7 L1793.7,981.7 L1794.5,978.7 L1795.3,975.7 L1796.1,972.6 L1796.9,969.6 L1797.6,966.5 L1798.4,963.4 L1799.1,960.4 L1799.8,957.3 L1800.5,954.2 L1801.2,951.1 L1801.9,948.0 L1802.6,944.9 L1803.3,941.8 L1803.9,938.7 L1804.6,935.7 L1805.3,932.6 L1806.0,929.5 L1806.6,926.5 L1807.3,923.4 L1808.0,920.4 L1808.7,917.4 L1809.4,914.4 L1810.1,911.4 L1810.9,908.5 L1811.6,905.6 L1812.4,902.7 L1813.1,899.8 L1813.9,896.9 L1814.8,894.1 L1815.6,891.3 L1816.5,888.6 L1817.3,885.8 L1818.3,883.1 L1819.2,880.5 L1820.2,877.9 L1821.2,875.3 L1822.2,872.7 L1823.3,870.1 L1824.4,867.5 L1825.5,864.9 L1826.6,862.3 L1827.8,859.6 L1829.0,856.8 L1830.2,854.0 L1831.5,851.1 L1832.8,848.0 L1834.1,844.8 L1835.4,841.5 L1836.8,838.2 L1838.2,834.9 L1839.6,831.8 L1841.0,828.9 L1842.5,826.3 L1844.0,824.2 L1845.5,822.5 L1847.0,821.4 L1848.6,821.0 L1850.2,821.4 L1851.8,822.4 L1853.4,824.0 L1855.0,826.1 L1856.7,828.6 L1858.3,831.4 L1860.0,834.4 L1861.7,837.5 L1863.3,840.6 L1865.0,843.7 L1866.7,846.7 L1868.3,849.5 L1870.0,852.4 L1871.6,855.1 L1873.3,857.8 L1874.9,860.4 L1876.5,863.0 L1878.0,865.6 L1879.6,868.1 L1881.1,870.7 L1882.6,873.2 L1884.1,875.8 L1885.5,878.4 L1886.9,881.0 L1888.3,883.7 L1889.6,886.4 L1891.0,889.1 L1892.3,891.9 L1893.6,894.6 L1894.9,897.4 L1896.2,900.1 L1897.6,902.9 L1898.9,905.6 L1900.3,908.3 L1901.7,911.0 L1903.1,913.7 L1904.6,916.3 L1906.1,918.9 L1907.7,921.4 L1909.3,923.9 L1910.9,926.4 L1912.6,928.8 L1914.3,931.2 L1916.1,933.6 L1917.8,936.0 L1919.7,938.3 L1921.5,940.5 L1923.4,942.8 L1925.3,945.0 L1927.3,947.2 L1929.2,949.4 L1931.2,951.5 L1933.3,953.6 L1935.3,955.7 L1937.4,957.8 L1939.5,959.8 L1941.7,961.8 L1943.8,963.8 L1946.0,965.8 L1948.2,967.8 L1950.4,969.7 L1952.7,971.6 L1954.9,973.5 L1957.2,975.4 L1959.5,977.3 L1961.9,979.2 L1964.2,981.0 L1966.5,982.9 L1968.9,984.7 L1971.3,986.5 L1973.7,988.3 L1976.1,990.1 L1978.5,991.9 L1980.9,993.7 L1983.4,995.5 L1985.8,997.3 L1988.2,999.0 L1990.7,1000.8 L1993.2,1002.6 L1995.6,1004.4 L1998.1,1006.1 L2000.6,1007.9 L2003.0,1009.7 L2005.5,1011.4 L2008.0,1013.2 L2010.5,1014.9 L2013.0,1016.7 L2015.5,1018.4 L2018.0,1020.2 L2020.5,1021.9 L2023.0,1023.7 L2025.5,1025.4 L2028.1,1027.1 L2030.6,1028.8 L2033.1,1030.5 L2035.7,1032.2 L2038.2,1033.9 L2040.8,1035.6 L2043.3,1037.2 L2045.9,1038.9 L2048.4,1040.5 L2051.0,1042.1 L2053.6,1043.8 L2056.2,1045.4 L2058.8,1047.0 L2061.4,1048.5 L2064.0,1050.1 L2066.6,1051.6 L2069.2,1053.2 L2071.8,1054.7 L2074.4,1056.2 L2077.1,1057.6 L2079.7,1059.1 L2082.3,1060.5 L2085.0,1061.9 L2087.7,1063.3 L2090.3,1064.7 L2093.0,1066.1 L2095.7,1067.4 L2098.4,1068.7 L2101.0,1070.0 L2103.7,1071.3 L2106.5,1072.5 L2109.2,1073.7 L2111.9,1074.9 L2114.6,1076.1 L2117.4,1077.2 L2120.1,1078.3 L2122.9,1079.4 L2125.6,1080.4 L2128.4,1081.5 L2131.2,1082.5 L2133.9,1083.4 L2136.7,1084.4 L2139.5,1085.3 L2142.3,1086.1 L2145.2,1087.0 L2148.0,1087.8 L2150.8,1088.5 L2153.7,1089.3 L2156.5,1090.0 L2159.4,1090.7 L2162.2,1091.3 L2165.1,1091.9 L2168.0,1092.4 L2170.9,1093.0 L2173.8,1093.5 L2176.7,1093.9 L2179.6,1094.3 L2182.6,1094.7 L2185.5,1095.0 L2188.4,1095.3 L2191.4,1095.6 L2194.4,1095.8 L2197.3,1095.9 L2200.3,1096.1 L2203.3,1096.2 L2206.3,1096.2 L2209.3,1096.3 L2212.3,1096.3 L2215.3,1096.2 L2218.3,1096.1 L2221.3,1096.0 L2224.3,1095.9 L2227.3,1095.7 L2230.3,1095.5 L2233.4,1095.3 L2236.4,1095.0 L2239.4,1094.7 L2242.4,1094.3 L2245.4,1094.0 L2248.4,1093.6 L2251.5,1093.1 L2254.5,1092.7 L2257.5,1092.2 L2260.5,1091.7 L2263.5,1091.1 L2266.5,1090.6 L2269.5,1090.0 L2272.4,1089.3 L2275.4,1088.7 L2278.4,1088.0 L2281.4,1087.3 L2284.3,1086.6 L2287.3,1085.8 L2290.2,1085.0 L2293.2,1084.2 L2296.1,1083.4 L2299.0,1082.6 L2301.9,1081.7 L2304.8,1080.8 L2307.7,1079.9 L2310.5,1079.0 L2313.4,1078.0 L2316.2,1077.0 L2319.1,1076.0 L2321.9,1075.0 L2324.7,1074.0 L2327.5,1072.9 L2330.3,1071.9 L2333.0,1070.8 L2335.7,1069.7 L2338.5,1068.5 L2341.2,1067.4 L2343.9,1066.3 L2346.5,1065.1 L2349.2,1063.9 L2351.8,1062.7" stroke="#00ff00"/>
<path d="M479.1,179.7 L479.2,182.7 L479.2,185.8 L479.3,188.8 L479.4,191.9 L479.5,194.9 L479.6,198.0 L479.7,201.0 L479.8,204.1 L479.9,207.1 L480.0,210.1 L480.1,213.2 L480.2,216.2 L480.3,219.2 L480.4,222.3 L480.5,225.3 L480.7,228.3 L480.8,231.3 L480.9,234.3 L481.0,237.4 L481.2,240.4 L481.3,243.4 L481.4,246.4 L481.6,249.4 L481.7,252.4 L481.9,255.4 L482.0,258.4 L482.1,261.4 L482.3,264.4 L482.5,267.4 L482.6,270.4 L482.8,273.4 L482.9,276.4 L483.1,279.4 L483.3,282.4 L483.4,285.4 L483.6,288.4 L483.8,291.4 L484.0,294.4 L484.2,297.3 L484.3,300.3 L484.5,303.3 L484.7,306.3 L484.9,309.3 L485.1,312.2 L485.3,315.2 L485.5,318.2 L485.7,321.2 L485.9,324.1 L486.1,327.1 L486.4,330.1 L486.6,333.1 L486.8,336.0 L487.0,339.0 L487.2,342.0 L487.5,344.9 L487.7,347.9 L487.9,350.9 L488.2,353.8 L488.4,356.8 L488.7,359.8 L488.9,362.7 L489.1,365.7 L489.4,368.6 L489.7,371.6 L489.9,374.6 L490.2,377.5 L490.4,380.5 L490.7,383.4 L491.0,386.4 L491.3,389.4 L491.5,392.3 L491.8,395.3 L492.1,398.2 L492.4,401.2 L492.7,404.2 L493.0,407.1 L493.2,410.1 L493.5,413.0 L493.8,416.0 L494.1,418.9 L494.5,421.9 L494.8,424.9 L495.1,427.8 L495.4,430.8 L495.7,433.7 L496.0,436.7 L496.4,439.7 L496.7,442.6 L497.0,445.6 L497.4,448.5 L497.7,451.5 L498.0,454.5 L498.4,457.4 L498.7,460.4 L499.1,463.4 L499.4,466.3 L499.8,469.3 L500.1,472.2 L500.5,475.2 L500.9,478.2 L501.2,481.1 L501.6,484.1 L502.0,487.1 L502.4,490.1 L502.8,493.0 L503.1,496.0 L503.5,499.0 L503.9,501.9 L504.3,504.9 L504.7,507.9 L505.1,510.9 L505.5,513.8 L505.9,516.8 L506.3,519.8 L506.8,522.8 L507.2,525.8 L507.6,528.8 L508.0,531.7 L508.4,534.7 L508.9,537.7 L509.3,540.7 L509.7,543.7 L510.2,546.7 L510.6,549.7 L511.1,552.7 L511.5,555.7 L512.0,558.7 L512.4,561.7 L512.9,564.7 L513.4,567.7 L513.9,570.7 L514.3,573.7 L514.8,576.7 L515.3,579.7 L515.8,582.7 L516.3,585.7 L516.8,588.7 L517.3,591.7 L517.9,594.7 L518.4,597.6 L518.9,600.6 L519.5,603.6 L520.1,606.6 L520.6,609.6 L521.2,612.6 L521.8,615.6 L522.4,618.5 L523.0,621.5 L523.6,624.5 L524.2,627.4 L524.9,630.4 L525.5,633.4 L526.2,636.3 L526.9,639.3 L527.6,642.2 L528.3,645.1 L529.0,648.1 L529.7,651.0 L530.4,653.9 L531.2,656.8 L532.0,659.7 L532.8,662.6 L533.6,665.5 L534.4,668.4 L535.2,671.3 L536.0,674.2 L536.9,677.1 L537.8,679.9 L538.7,682.8 L539.6,685.6 L540.5,688.5 L541.5,691.3 L542.4,694.1 L543.4,696.9 L544.4,699.7 L545.4,702.5 L546.5,705.3 L547.5,708.1 L548.6,710.8 L549.7,713.6 L550.8,716.3 L551.9,719.1 L553.1,721.8 L554.3,724.5 L555.5,727.2 L556.7,729.9 L558.0,732.5 L559.2,735.2 L560.5,737.9 L561.8,740.5 L563.2,743.1 L564.5,745.7 L565.9,748.3 L567.3,750.9 L568.7,753.5 L570.2,756.1 L571.7,758.6 L573.2,761.1 L574.8,763.7 L576.3,766.1 L577.9,768.6 L579.6,771.1 L581.3,773.5 L583.0,775.9 L584.7,778.3 L586.5,780.6 L588.4,782.9 L590.2,785.2 L592.2,787.4 L594.1,789.7 L596.2,791.8 L598.2,794.0 L600.4,796.1 L602.5,798.2 L604.7,800.2 L607.0,802.2 L609.3,804.1 L611.7,806.0 L614.1,807.8 L616.5,809.6 L619.0,811.4 L621.6,813.1 L624.1,814.8 L626.7,816.3 L629.3,817.9 L632.0,819.4 L634.7,820.8 L637.4,822.2 L640.2,823.5 L642.9,824.7 L645.7,825.9 L648.6,827.0 L651.4,828.1 L654.3,829.1 L657.1,830.0 L660.0,830.8 L662.9,831.6 L665.9,832.3 L668.8,833.0 L671.7,833.5 L674.7,834.0 L677.6,834.4 L680.6,834.7 L683.6,834.9 L686.5,835.1 L689.5,835.2 L692.4,835.2 L695.4,835.1 L698.4,834.9 L701.3,834.7 L704.3,834.4 L707.2,834.0 L710.2,833.6 L713.1,833.1 L716.1,832.5 L719.0,831.9 L721.9,831.2 L724.9,830.4 L727.8,829.6 L730.7,828.7 L733.6,827.8 L736.5,826.8 L739.3,825.8 L742.2,824.7 L745.1,823.6 L747.9,822.4 L750.7,821.2 L753.6,819.9 L756.4,818.6 L759.2,817.2 L761.9,815.8 L764.7,814.4 L767.4,812.9 L770.1,811.4 L772.8,809.9 L775.5,808.3 L778.2,806.7 L780.8,805.1 L783.5,803.5 L786.1,801.8 L788.7,800.1 L791.2,798.4 L793.8,796.7 L796.3,794.9 L798.8,793.2 L801.2,791.4 L803.6,789.6 L806.1,787.8 L808.4,786.0 L810.8,784.2 L813.1,782.4 L815.5,780.5 L817.8,778.7 L820.0,776.8 L822.3,774.9 L824.6,773.0 L826.8,771.2 L829.0,769.3 L831.2,767.3 L833.4,765.4 L835.6,763.5 L837.8,761.6 L839.9,759.6 L842.1,757.7 L844.2,755.7 L846.4,753.8 L848.5,751.8 L850.6,749.8 L852.8,747.9 L854.9,745.9 L857.0,743.9 L859.2,741.9 L861.3,739.9 L863.5,737.9 L865.6,735.9 L867.8,733.9 L869.9,731.9 L872.1,729.9 L874.2,727.9 L876.4,725.9 L878.6,723.9 L880.8,721.9 L883.0,719.8 L885.3,717.8 L887.5,715.8 L889.8,713.8 L892.0,711.8 L894.3,709.8 L896.6,707.8 L898.9,705.8 L901.2,703.8 L903.5,701.9 L905.8,699.9 L908.1,697.9 L910.5,696.0 L912.8,694.0 L915.2,692.1 L917.6,690.2 L919.9,688.3 L922.3,686.4 L924.7,684.5 L927.2,682.7 L929.6,680.8 L932.0,679.0 L934.5,677.2 L936.9,675.4 L939.4,673.6 L941.9,671.9 L944.4,670.1 L946.9,668.4 L949.4,666.7 L952.0,665.1 L954.5,663.4 L957.0,661.8 L959.6,660.2 L962.2,658.6 L964.8,657.1 L967.4,655.6 L970.0,654.1 L972.6,652.7 L975.2,651.2 L977.8,649.8 L980.5,648.5 L983.2,647.1 L985.8,645.9 L988.5,644.6 L991.2,643.4 L993.9,642.2 L996.6,641.0 L999.4,639.9 L1002.1,638.8 L1004.8,637.8 L1007.6,636.8 L1010.4,635.8 L1013.2,634.9 L1016.0,634.0 L1018.8,633.2 L1021.6,632.4 L1024.4,631.6 L1027.3,630.9 L1030.1,630.3 L1033.0,629.7 L1035.9,629.1 L1038.7,628.6 L1041.6,628.1 L1044.6,627.7 L1047.5,627.3 L1050.4,627.0 L1053.4,626.7 L1056.3,626.5 L1059.3,626.4 L1062.3,626.3 L1065.3,626.2 L1068.3,626.2 L1071.3,626.3 L1074.3,626.4 L1077.4,626.6 L1080.4,626.8 L1083.5,627.1 L1086.5,627.5 L1089.6,627.9 L1092.7,628.4 L1095.8,628.9 L1099.0,629.5 L1102.1,630.2 L1105.2,630.8 L1108.3,631.4 L1111.5,632.1 L1114.6,632.6 L1117.7,633.1 L1120.8,633.5 L1123.9,633.7 L1126.9,633.9 L1130.0,633.8 L1133.0,633.6 L1136.0,633.3 L1138.9,632.7 L1141.8,632.0 L1144.7,631.2 L1147.5,630.2 L1150.3,629.1 L1153.0,627.8 L1155.7,626.5 L1158.3,625.0 L1160.9,623.4 L1163.4,621.7 L1165.8,620.0 L1168.2,618.1 L1170.5,616.2 L1172.7,614.2 L1174.8,612.1 L1176.9,610.0 L1178.8,607.8 L1180.7,605.5 L1182.4,603.2 L1184.1,600.8 L1185.7,598.4 L1187.2,596.0 L1188.7,593.5 L1190.0,591.0 L1191.4,588.4 L1192.7,585.8 L1194.0,583.1 L1195.2,580.5 L1196.5,577.8 L1197.8,575.1 L1199.1,572.3 L1200.4,569.6 L1201.7,566.8 L1203.0,564.0 L1204.4,561.2 L1205.7,558.5 L1207.1,555.7 L1208.4,552.9 L1209.7,550.1 L1211.0,547.3 L1212.3,544.5 L1213.6,541.7 L1214.8,538.9 L1216.1,536.2 L1217.3,533.5 L1218.4,530.7 L1219.6,528.0 L1220.7,525.3 L1221.8,522.6 L1222.9,519.9 L1224.0,517.3 L1225.1,514.6 L1226.2,511.9 L1227.3,509.2 L1228.3,506.5 L1229.4,503.8 L1230.5,501.1 L1231.5,498.4 L1232.6,495.7 L1233.7,492.9 L1234.8,490.1 L1236.0,487.3 L1237.1,484.5 L1238.3,481.7 L1239.5,478.8 L1240.7,476.0 L1241.9,473.0 L1243.2,470.1 L1244.5,467.2 L1245.9,464.3 L1247.3,461.4 L1248.7,458.5 L1250.2,455.7 L1251.7,453.0 L1253.2,450.3 L1254.8,447.7 L1256.5,445.2 L1258.2,442.8 L1260.0,440.5 L1261.9,438.4 L1263.8,436.4 L1265.8,434.6 L1267.8,433.1 L1269.9,432.0 L1272.1,431.4 L1274.4,431.4 L1276.7,432.0 L1279.1,433.1 L1281.4,434.7 L1283.8,436.6 L1286.1,438.9 L1288.4,441.5 L1290.6,444.2 L1292.6,447.1 L1294.6,450.0 L1296.3,452.9 L1297.9,455.7 L1299.4,458.4 L1300.7,461.1 L1301.9,463.8 L1303.0,466.4 L1304.1,468.9 L1305.2,471.5 L1306.2,474.1 L1307.3,476.7 L1308.4,479.2 L1309.6,481.9 L1310.9,484.5 L1312.3,487.2 L1313.8,489.9 L1315.4,492.7 L1317.1,495.4 L1318.8,498.1 L1320.7,500.8 L1322.6,503.5 L1324.5,506.2 L1326.5,508.8 L1328.5,511.3 L1330.6,513.7 L1332.7,516.0 L1334.9,518.0 L1337.0,519.6 L1339.2,520.9 L1341.3,521.6 L1343.5,521.7 L1345.7,521.2 L1347.8,520.1 L1350.0,518.7 L1352.1,516.8 L1354.2,514.8 L1356.3,512.5 L1358.4,510.2 L1360.5,507.9 L1362.6,505.6 L1364.6,503.3 L1366.6,501.0 L1368.7,498.6 L1370.7,496.2 L1372.6,493.7 L1374.6,491.1 L1376.5,488.5 L1378.4,485.8 L1380.3,482.9 L1382.2,480.0 L1384.0,477.0 L1385.9,474.1 L1387.7,471.3 L1389.6,468.8 L1391.6,466.5 L1393.6,464.6 L1395.7,463.1 L1397.8,462.1 L1400.0,461.5 L1402.2,461.3 L1404.4,461.5 L1406.6,462.2 L1408.7,463.2 L1410.8,464.6 L1412.9,466.3 L1414.8,468.4 L1416.7,470.8 L1418.4,473.4 L1420.1,476.1 L1421.7,479.0 L1423.2,481.9 L1424.6,484.8 L1425.9,487.7 L1427.1,490.6 L1428.3,493.5 L1429.4,496.4 L1430.3,499.4 L1431.3,502.3 L1432.1,505.2 L1432.9,508.1 L1433.7,511.1 L1434.4,514.0 L1435.0,516.9 L1435.6,519.9 L1436.1,522.8 L1436.6,525.7 L1437.1,528.7 L1437.6,531.6 L1438.0,534.5 L1438.4,537.5 L1438.7,540.4 L1439.1,543.4 L1439.5,546.3 L1439.8,549.3 L1440.2,552.2 L1440.5,555.2 L1440.9,558.1 L1441.2,561.1 L1441.6,564.0 L1442.0,567.0 L1442.4,569.9 L1442.8,572.9 L1443.3,575.8 L1443.8,578.8 L1444.3,581.7 L1444.8,584.7 L1445.3,587.7 L1445.9,590.6 L1446.5,593.6 L1447.1,596.5 L1447.7,599.5 L1448.3,602.5 L1448.9,605.4 L1449.6,608.4 L1450.2,611.4 L1450.8,614.3 L1451.5,617.3 L1452.2,620.2 L1452.8,623.2 L1453.5,626.2 L1454.2,629.1 L1454.8,632.1 L1455.5,635.1 L1456.2,638.0 L1456.8,641.0 L1457.5,643.9 L1458.1,646.9 L1458.7,649.9 L1459.4,652.8 L1460.0,655.8 L1460.6,658.8 L1461.2,661.7 L1461.8,664.7 L1462.4,667.6 L1463.0,670.6 L1463.6,673.6 L1464.2,676.5 L1464.7,679.5 L1465.3,682.4 L1465.9,685.4 L1466.5,688.3 L1467.0,691.3 L1467.6,694.2 L1468.2,697.2 L1468.7,700.1 L1469.3,703.1 L1469.8,706.0 L1470.4,709.0 L1470.9,711.9 L1471.5,714.9 L1472.0,717.8 L1472.6,720.8 L1473.2,723.7 L1473.7,726.6 L1474.3,729.6 L1474.8,732.5 L1475.4,735.4 L1476.0,738.4 L1476.5,741.3 L1477.1,744.2 L1477.7,747.2 L1478.3,750.1 L1478.9,753.0 L1479.5,755.9 L1480.1,758.9 L1480.7,761.8 L1481.3,764.7 L1481.9,767.6 L1482.5,770.5 L1483.1,773.4 L1483.8,776.3 L1484.4,779.2 L1485.0,782.2 L1485.7,785.1 L1486.4,787.9 L1487.0,790.8 L1487.7,793.7 L1488.4,796.6 L1489.1,799.5 L1489.8,802.4 L1490.5,805.3 L1491.3,808.2 L1492.0,811.0 L1492.8,813.9 L1493.5,816.8 L1494.3,819.7 L1495.1,822.5 L1495.9,825.4 L1496.7,828.3 L1497.6,831.1 L1498.4,834.0 L1499.3,836.8 L1500.2,839.7 L1501.0,842.5 L1501.9,845.4 L1502.9,848.2 L1503.8,851.0 L1504.8,853.9 L1505.7,856.7 L1506.7,859.5 L1507.7,862.3 L1508.7,865.1 L1509.8,868.0 L1510.8,870.8 L1511.9,873.6 L1513.0,876.3 L1514.1,879.1 L1515.2,881.9 L1516.4,884.7 L1517.5,887.4 L1518.7,890.2 L1519.9,892.9 L1521.1,895.7 L1522.4,898.4 L1523.6,901.1 L1524.9,903.8 L1526.2,906.5 L1527.5,909.2 L1528.9,911.9 L1530.3,914.6 L1531.7,917.2 L1533.1,919.8 L1534.5,922.5 L1536.0,925.1 L1537.4,927.7 L1538.9,930.3 L1540.5,932.8 L1542.0,935.4 L1543.6,937.9 L1545.2,940.5 L1546.8,943.0 L1548.4,945.5 L1550.1,948.0 L1551.8,950.4 L1553.5,952.9 L1555.3,955.3 L1557.0,957.7 L1558.8,960.1 L1560.7,962.5 L1562.5,964.8 L1564.4,967.1 L1566.3,969.4 L1568.2,971.7 L1570.2,974.0 L1572.1,976.3 L1574.2,978.5 L1576.2,980.7 L1578.3,982.9 L1580.4,985.0 L1582.5,987.2 L1584.6,989.3 L1586.8,991.4 L1589.0,993.5 L1591.2,995.5 L1593.5,997.5 L1595.8,999.5 L1598.1,1001.5 L1600.5,1003.4 L1602.9,1005.3 L1605.3,1007.1 L1607.8,1008.9 L1610.2,1010.7 L1612.8,1012.4 L1615.3,1014.0 L1617.9,1015.6 L1620.6,1017.1 L1623.2,1018.6 L1625.9,1019.9 L1628.7,1021.3 L1631.4,1022.5 L1634.3,1023.7 L1637.1,1024.7 L1640.0,1025.7 L1642.9,1026.6 L1645.9,1027.5 L1648.9,1028.2 L1652.0,1028.8 L1655.1,1029.3 L1658.1,1029.8 L1661.2,1030.1 L1664.3,1030.3 L1667.4,1030.4 L1670.4,1030.3 L1673.4,1030.2 L1676.4,1029.9 L1679.3,1029.5 L1682.2,1029.0 L1685.1,1028.4 L1687.9,1027.7 L1690.6,1026.8 L1693.4,1025.9 L1696.1,1024.8 L1698.7,1023.7 L1701.3,1022.5 L1703.9,1021.1 L1706.4,1019.7 L1708.9,1018.2 L1711.4,1016.6 L1713.7,1015.0 L1716.1,1013.3 L1718.4,1011.4 L1720.7,1009.6 L1722.9,1007.6 L1725.1,1005.6 L1727.2,1003.6 L1729.3,1001.5 L1731.3,999.3 L1733.3,997.1 L1735.3,994.8 L1737.2,992.5 L1739.0,990.1 L1740.8,987.7 L1742.6,985.3 L1744.3,982.9 L1745.9,980.4 L1747.5,977.9 L1749.1,975.3 L1750.6,972.7 L1752.1,970.1 L1753.6,967.5 L1755.0,964.9 L1756.3,962.2 L1757.6,959.5 L1758.9,956.8 L1760.2,954.1 L1761.4,951.3 L1762.5,948.5 L1763.7,945.7 L1764.8,942.9 L1765.9,940.1 L1766.9,937.2 L1767.9,934.4 L1768.9,931.5 L1769.9,928.6 L1770.8,925.7 L1771.8,922.8 L1772.7,919.9 L1773.5,917.0 L1774.4,914.0 L1775.2,911.1 L1776.0,908.2 L1776.8,905.2 L1777.6,902.3 L1778.3,899.3 L1779.1,896.3 L1779.8,893.4 L1780.5,890.4 L1781.2,887.5 L1781.9,884.5 L1782.6,881.5 L1783.3,878.6 L1783.9,875.6 L1784.6,872.7 L1785.3,869.7 L1785.9,866.8 L1786.5,863.9 L1787.2,860.9 L1787.8,858.0 L1788.4,855.1 L1789.0,852.2 L1789.6,849.2 L1790.2,846.3 L1790.8,843.4 L1791.4,840.5 L1792.0,837.6 L1792.6,834.6 L1793.1,831.7 L1793.7,828.8 L1794.2,825.9 L1794.8,823.0 L1795.3,820.1 L1795.9,817.2 L1796.4,814.3 L1797.0,811.3 L1797.5,808.4 L1798.0,805.5 L1798.5,802.6 L1799.0,799.7 L1799.5,796.8 L1800.0,793.8 L1800.5,790.9 L1801.0,788.0 L1801.5,785.1 L1802.0,782.1 L1802.5,779.2 L1803.0,776.3 L1803.5,773.3 L1804.0,770.4 L1804.4,767.4 L1804.9,764.5 L1805.4,761.5 L1805.8,758.6 L1806.3,755.6 L1806.8,752.6 L1807.2,749.6 L1807.7,746.7 L1808.2,743.7 L1808.6,740.7 L1809.1,737.7 L1809.5,734.7 L1810.0,731.7 L1810.4,728.7 L1810.9,725.7 L1811.3,722.7 L1811.8,719.7 L1812.2,716.6 L1812.7,713.6 L1813.1,710.6 L1813.6,707.6 L1814.0,704.6 L1814.5,701.6 L1814.9,698.6 L1815.4,695.6 L1815.8,692.6 L1816.3,689.6 L1816.7,686.7 L1817.2,683.7 L1817.6,680.7 L1818.1,677.7 L1818.5,674.8 L1819.0,671.8 L1819.5,668.9 L1819.9,666.0 L1820.4,663.1 L1820.8,660.2 L1821.3,657.2 L1821.8,654.3 L1822.2,651.4 L1822.7,648.5 L1823.2,645.7 L1823.6,642.8 L1824.1,639.9 L1824.5,637.0 L1825.0,634.1 L1825.5,631.2 L1825.9,628.3 L1826.4,625.4 L1826.8,622.5 L1827.2,619.6 L1827.7,616.7 L1828.1,613.8 L1828.5,610.8 L1829.0,607.9 L1829.4,604.9 L1829.8,602.0 L1830.2,599.0 L1830.6,596.0 L1831.0,593.1 L1831.5,590.0 L1832.0,587.0 L1832.5,584.0 L1833.0,580.9 L1833.7,577.9 L1834.4,574.8 L1835.2,571.7 L1836.1,568.6 L1837.0,565.4 L1838.1,562.3 L1839.4,559.1 L1840.7,555.9 L1842.2,552.7 L1843.8,549.6 L1845.5,546.7 L1847.3,544.1 L1849.1,541.9 L1850.9,540.2 L1852.7,539.1 L1854.5,538.8 L1856.2,539.2 L1857.8,540.4 L1859.4,542.1 L1860.9,544.4 L1862.4,547.0 L1863.8,550.0 L1865.2,553.1 L1866.5,556.4 L1867.7,559.6 L1868.9,562.7 L1870.1,565.8 L1871.2,568.8 L1872.2,571.8 L1873.3,574.7 L1874.3,577.6 L1875.2,580.5 L1876.1,583.4 L1877.0,586.2 L1877.8,589.0 L1878.7,591.8 L1879.4,594.7 L1880.2,597.5 L1880.9,600.3 L1881.6,603.1 L1882.3,606.0 L1883.0,608.8 L1883.6,611.7 L1884.2,614.6 L1884.9,617.5 L1885.4,620.4 L1886.0,623.3 L1886.6,626.2 L1887.2,629.1 L1887.7,632.1 L1888.3,635.0 L1888.8,638.0 L1889.4,640.9 L1889.9,643.8 L1890.5,646.8 L1891.0,649.8 L1891.6,652.7 L1892.1,655.7 L1892.7,658.6 L1893.3,661.6 L1893.9,664.5 L1894.5,667.5 L1895.1,670.4 L1895.7,673.4 L1896.4,676.3 L1897.1,679.2 L1897.8,682.2 L1898.5,685.1 L1899.2,688.0 L1900.0,690.9 L1900.7,693.8 L1901.5,696.8 L1902.3,699.7 L1903.1,702.6 L1903.9,705.5 L1904.8,708.3 L1905.7,711.2 L1906.5,714.1 L1907.4,717.0 L1908.4,719.8 L1909.3,722.7 L1910.2,725.6 L1911.2,728.4 L1912.2,731.3 L1913.2,734.1 L1914.2,736.9 L1915.2,739.8 L1916.3,742.6 L1917.3,745.4 L1918.4,748.2 L1919.5,751.0 L1920.6,753.8 L1921.7,756.6 L1922.8,759.4 L1924.0,762.2 L1925.1,765.0 L1926.3,767.7 L1927.5,770.5 L1928.7,773.2 L1929.9,776.0 L1931.2,778.7 L1932.4,781.5 L1933.7,784.2 L1934.9,786.9 L1936.2,789.6 L1937.5,792.3 L1938.8,795.0 L1940.2,797.7 L1941.5,800.4 L1942.9,803.1 L1944.2,805.7 L1945.6,808.4 L1947.0,811.0 L1948.4,813.7 L1949.8,816.3 L1951.2,818.9 L1952.7,821.5 L1954.1,824.1 L1955.6,826.7 L1957.1,829.3 L1958.6,831.9 L1960.1,834.5 L1961.6,837.1 L1963.1,839.6 L1964.6,842.2 L1966.2,844.7 L1967.7,847.3 L1969.3,849.8 L1970.9,852.3 L1972.5,854.9 L1974.1,857.4 L1975.7,859.9 L1977.3,862.4 L1978.9,864.9 L1980.6,867.4 L1982.2,869.9 L1983.9,872.3 L1985.5,874.8 L1987.2,877.3 L1988.9,879.7 L1990.6,882.2 L1992.3,884.7 L1994.0,887.1 L1995.7,889.5 L1997.4,892.0 L1999.2,894.4 L2000.9,896.8 L2002.7,899.3 L2004.4,901.7 L2006.2,904.1 L2008.0,906.5 L2009.8,908.9 L2011.6,911.3 L2013.4,913.7 L2015.2,916.1 L2017.0,918.5 L2018.8,920.9 L2020.6,923.3 L2022.5,925.6 L2024.3,928.0 L2026.1,930.4 L2028.0,932.8 L2029.9,935.1 L2031.7,937.5 L2033.6,939.9 L2035.5,942.2 L2037.4,944.6 L2039.3,947.0 L2041.2,949.3 L2043.1,951.7 L2045.0,954.0 L2046.9,956.3 L2048.8,958.7 L2050.7,961.0 L2052.7,963.3 L2054.6,965.6 L2056.6,967.9 L2058.6,970.2 L2060.5,972.5 L2062.5,974.8 L2064.5,977.1 L2066.6,979.3 L2068.6,981.5 L2070.6,983.8 L2072.7,986.0 L2074.7,988.2 L2076.8,990.4 L2078.9,992.5 L2081.0,994.7 L2083.1,996.8 L2085.2,998.9 L2087.3,1001.1 L2089.5,1003.1 L2091.6,1005.2 L2093.8,1007.2 L2096.0,1009.3 L2098.2,1011.3 L2100.4,1013.3 L2102.7,1015.2 L2105.0,1017.2 L2107.2,1019.1 L2109.5,1021.0 L2111.8,1022.8 L2114.2,1024.7 L2116.5,1026.5 L2118.9,1028.3 L2121.3,1030.1 L2123.7,1031.8 L2126.1,1033.5 L2128.5,1035.2 L2131.0,1036.8 L2133.5,1038.5 L2136.0,1040.1 L2138.5,1041.6 L2141.1,1043.1 L2143.6,1044.6 L2146.2,1046.1 L2148.8,1047.5 L2151.5,1048.9 L2154.1,1050.3 L2156.8,1051.6 L2159.5,1052.9 L2162.2,1054.2 L2164.9,1055.4 L2167.7,1056.6 L2170.4,1057.7 L2173.2,1058.8 L2176.0,1059.9 L2178.8,1060.9 L2181.7,1061.9 L2184.5,1062.8 L2187.4,1063.8 L2190.2,1064.6 L2193.1,1065.4 L2196.0,1066.2 L2198.9,1067.0 L2201.8,1067.6 L2204.8,1068.3 L2207.7,1068.9 L2210.7,1069.5 L2213.6,1070.0 L2216.6,1070.4 L2219.5,1070.9 L2222.5,1071.2 L2225.5,1071.6 L2228.5,1071.8 L2231.5,1072.1 L2234.5,1072.2 L2237.5,1072.4 L2240.5,1072.4 L2243.5,1072.5 L2246.5,1072.4 L2249.5,1072.3 L2252.6,1072.2 L2255.6,1072.0 L2258.6,1071.8 L2261.6,1071.5 L2264.6,1071.2 L2267.7,1070.8 L2270.7,1070.4 L2273.7,1069.9 L2276.7,1069.4 L2279.7,1068.9 L2282.7,1068.3 L2285.7,1067.7 L2288.7,1067.0 L2291.7,1066.4 L2294.6,1065.7 L2297.6,1065.0 L2300.6,1064.3 L2303.5,1063.5 L2306.5,1062.7 L2309.4,1062.0 L2312.3,1061.2 L2315.3,1060.4 L2318.2,1059.6 L2321.0,1058.7 L2323.9,1057.9 L2326.8,1057.1 L2329.7,1056.3 L2332.5,1055.5 L2335.3,1054.7 L2338.1,1053.8 L2340.9,1053.1 L2343.7,1052.3 L2346.5,1051.5 L2349.2,1050.8 L2351.9,1050.0" stroke="#0000ff"/>
<path d="M482.9,19.9 L483.0,22.9 L483.1,25.9 L483.2,28.9 L483.3,31.9 L483.4,35.0 L483.5,38.0 L483.6,41.0 L483.7,44.0 L483.8,47.0 L483.9,50.0 L484.0,53.0 L484.1,56.0 L484.2,59.0 L484.3,62.0 L484.3,65.1 L484.4,68.1 L484.5,71.1 L484.6,74.1 L484.6,77.1 L484.7,80.1 L484.8,83.1 L484.8,86.1 L484.9,89.1 L485.0,92.1 L485.0,95.1 L485.1,98.1 L485.2,101.1 L485.2,104.1 L485.3,107.1 L485.3,110.1 L485.4,113.1 L485.4,116.1 L485.5,119.1 L485.6,122.1 L485.6,125.1 L485.7,128.1 L485.7,131.1 L485.8,134.1 L485.8,137.1 L485.9,140.1 L485.9,143.1 L486.0,146.1 L486.0,149.1 L486.1,152.1 L486.1,155.1 L486.2,158.1 L486.2,161.1 L486.3,164.1 L486.3,167.1 L486.4,170.1 L486.4,173.1 L486.5,176.1 L486.6,179.1 L486.6,182.1 L486.7,185.1 L486.7,188.1 L486.8,191.1 L486.9,194.1 L486.9,197.1 L487.0,200.1 L487.0,203.0 L487.1,206.0 L487.2,209.0 L487.2,212.0 L487.3,215.0 L487.4,218.0 L487.5,221.0 L487.5,224.0 L487.6,227.0 L487.7,230.0 L487.8,233.0 L487.9,235.9 L487.9,238.9 L488.0,241.9 L488.1,244.9 L488.2,247.9 L488.3,250.9 L488.4,253.9 L488.5,256.9 L488.6,259.8 L488.7,262.8 L488.8,265.8 L488.9,268.8 L489.1,271.8 L489.2,274.8 L489.3,277.8 L489.4,280.8 L489.6,283.7 L489.7,286.7 L489.8,289.7 L490.0,292.7 L490.1,295.7 L490.2,298.7 L490.4,301.7 L490.6,304.6 L490.7,307.6 L490.9,310.6 L491.0,313.6 L491.2,316.6 L491.4,319.6 L491.6,322.5 L491.8,325.5 L491.9,328.5 L492.1,331.5 L492.3,334.5 L492.5,337.5 L492.7,340.4 L492.9,343.4 L493.2,346.4 L493.4,349.4 L493.6,352.4 L493.8,355.3 L494.1,358.3 L494.3,361.3 L494.6,364.3 L494.8,367.3 L495.1,370.3 L495.4,373.2 L495.6,376.2 L495.9,379.2 L496.2,382.2 L496.5,385.2 L496.8,388.1 L497.1,391.1 L497.4,394.1 L497.7,397.1 L498.0,400.1 L498.3,403.0 L498.7,406.0 L499.0,409.0 L499.3,412.0 L499.7,415.0 L500.0,417.9 L500.4,420.9 L500.8,423.9 L501.2,426.9 L501.5,429.9 L501.9,432.8 L502.3,435.8 L502.7,438.8 L503.2,441.8 L503.6,444.8 L504.0,447.7 L504.4,450.7 L504.9,453.7 L505.3,456.7 L505.8,459.7 L506.3,462.6 L506.7,465.6 L507.2,468.6 L507.7,471.6 L508.2,474.5 L508.7,477.5 L509.2,480.5 L509.8,483.5 L510.3,486.5 L510.8,489.4 L511.4,492.4 L511.9,495.4 L512.5,498.4 L513.1,501.3 L513.7,504.3 L514.2,507.3 L514.8,510.3 L515.4,513.2 L516.0,516.2 L516.6,519.2 L517.2,522.2 L517.8,525.1 L518.5,528.1 L519.1,531.1 L519.7,534.0 L520.3,537.0 L521.0,539.9 L521.6,542.9 L522.3,545.8 L522.9,548.8 L523.5,551.7 L524.2,554.7 L524.8,557.6 L525.5,560.6 L526.2,563.5 L526.8,566.4 L527.5,569.4 L528.1,572.3 L528.8,575.2 L529.4,578.1 L530.1,581.1 L530.7,584.0 L531.4,586.9 L532.1,589.8 L532.7,592.7 L533.4,595.6 L534.0,598.5 L534.7,601.4 L535.3,604.3 L536.0,607.1 L536.6,610.0 L537.3,612.9 L537.9,615.7 L538.6,618.6 L539.3,621.5 L540.0,624.3 L540.7,627.2 L541.5,630.0 L542.2,632.8 L543.0,635.7 L543.8,638.5 L544.7,641.3 L545.6,644.1 L546.5,646.9 L547.4,649.7 L548.4,652.5 L549.5,655.3 L550.5,658.1 L551.6,660.8 L552.8,663.6 L553.9,666.4 L555.1,669.1 L556.4,671.9 L557.6,674.6 L558.9,677.3 L560.2,680.0 L561.6,682.8 L562.9,685.5 L564.3,688.2 L565.7,690.9 L567.1,693.5 L568.6,696.2 L570.0,698.9 L571.5,701.5 L573.0,704.2 L574.5,706.8 L576.0,709.5 L577.5,712.1 L579.1,714.7 L580.6,717.3 L582.2,719.9 L583.8,722.4 L585.4,725.0 L587.1,727.5 L588.7,730.0 L590.5,732.4 L592.2,734.8 L594.0,737.2 L595.8,739.6 L597.7,741.9 L599.6,744.1 L601.6,746.3 L603.7,748.5 L605.7,750.6 L607.9,752.6 L610.1,754.6 L612.4,756.5 L614.7,758.3 L617.2,760.1 L619.6,761.8 L622.2,763.5 L624.7,765.1 L627.4,766.6 L630.1,768.1 L632.8,769.5 L635.6,770.8 L638.4,772.1 L641.2,773.2 L644.1,774.4 L647.0,775.4 L649.9,776.4 L652.9,777.4 L655.9,778.2 L658.9,779.0 L661.9,779.7 L664.9,780.4 L668.0,781.0 L671.0,781.5 L674.1,782.0 L677.1,782.3 L680.2,782.7 L683.3,782.9 L686.3,783.1 L689.3,783.2 L692.3,783.2 L695.3,783.2 L698.3,783.1 L701.3,783.0 L704.3,782.7 L707.2,782.4 L710.1,782.1 L713.0,781.7 L715.9,781.2 L718.8,780.7 L721.7,780.1 L724.5,779.4 L727.4,778.7 L730.2,778.0 L733.0,777.2 L735.8,776.3 L738.6,775.4 L741.3,774.5 L744.1,773.5 L746.8,772.4 L749.6,771.3 L752.3,770.2 L755.0,769.0 L757.7,767.8 L760.4,766.6 L763.0,765.3 L765.7,764.0 L768.3,762.6 L771.0,761.2 L773.6,759.8 L776.2,758.3 L778.8,756.8 L781.4,755.3 L784.0,753.8 L786.5,752.2 L789.1,750.7 L791.6,749.1 L794.2,747.4 L796.7,745.8 L799.2,744.1 L801.7,742.4 L804.2,740.7 L806.7,739.0 L809.2,737.3 L811.6,735.5 L814.1,733.8 L816.5,732.0 L819.0,730.2 L821.4,728.4 L823.8,726.6 L826.2,724.8 L828.6,723.0 L831.0,721.2 L833.4,719.3 L835.8,717.5 L838.2,715.6 L840.5,713.8 L842.9,711.9 L845.3,710.0 L847.6,708.2 L849.9,706.3 L852.3,704.4 L854.6,702.5 L856.9,700.6 L859.2,698.7 L861.5,696.8 L863.8,694.9 L866.1,693.0 L868.4,691.1 L870.7,689.1 L873.0,687.2 L875.2,685.2 L877.5,683.3 L879.8,681.3 L882.0,679.3 L884.3,677.4 L886.5,675.4 L888.8,673.4 L891.0,671.4 L893.2,669.4 L895.5,667.3 L897.7,665.3 L899.9,663.3 L902.1,661.2 L904.3,659.2 L906.6,657.1 L908.8,655.0 L911.0,652.9 L913.2,650.8 L915.4,648.7 L917.6,646.6 L919.8,644.4 L922.0,642.3 L924.2,640.2 L926.4,638.0 L928.6,635.9 L930.8,633.8 L933.0,631.6 L935.2,629.5 L937.4,627.4 L939.7,625.3 L941.9,623.2 L944.1,621.1 L946.4,619.1 L948.6,617.0 L950.9,615.0 L953.2,613.0 L955.5,611.0 L957.8,609.1 L960.1,607.2 L962.4,605.3 L964.8,603.4 L967.1,601.6 L969.5,599.8 L971.9,598.1 L974.3,596.3 L976.7,594.7 L979.2,593.0 L981.6,591.5 L984.1,589.9 L986.6,588.4 L989.1,587.0 L991.7,585.6 L994.3,584.3 L996.9,583.0 L999.5,581.8 L1002.1,580.6 L1004.8,579.5 L1007.5,578.5 L1010.3,577.5 L1013.0,576.7 L1015.8,575.8 L1018.6,575.1 L1021.5,574.4 L1024.4,573.8 L1027.3,573.2 L1030.2,572.8 L1033.2,572.4 L1036.2,572.0 L1039.2,571.7 L1042.2,571.5 L1045.3,571.3 L1048.3,571.1 L1051.4,571.0 L1054.5,571.0 L1057.6,570.9 L1060.7,570.9 L1063.8,571.0 L1066.9,571.0 L1070.0,571.1 L1073.1,571.2 L1076.2,571.4 L1079.3,571.5 L1082.4,571.7 L1085.5,571.9 L1088.6,572.0 L1091.7,572.2 L1094.7,572.4 L1097.8,572.6 L1100.8,572.7 L1103.8,572.9 L1106.8,573.0 L1109.8,573.2 L1112.7,573.3 L1115.6,573.3 L1118.5,573.4 L1121.4,573.3 L1124.2,573.2 L1127.0,573.0 L1129.7,572.7 L1132.4,572.3 L1135.1,571.7 L1137.7,571.1 L1140.3,570.2 L1142.9,569.2 L1145.3,568.1 L1147.8,566.7 L1150.2,565.2 L1152.5,563.4 L1154.7,561.4 L1156.9,559.3 L1159.1,557.0 L1161.2,554.5 L1163.2,552.0 L1165.1,549.4 L1167.0,546.7 L1168.8,543.9 L1170.5,541.2 L1172.1,538.4 L1173.7,535.7 L1175.2,532.9 L1176.7,530.1 L1178.0,527.3 L1179.4,524.5 L1180.6,521.7 L1181.8,518.9 L1183.0,516.1 L1184.1,513.3 L1185.1,510.5 L1186.2,507.7 L1187.1,504.8 L1188.1,502.0 L1189.0,499.2 L1189.9,496.3 L1190.7,493.5 L1191.5,490.6 L1192.3,487.8 L1193.1,484.9 L1193.9,482.1 L1194.6,479.2 L1195.4,476.3 L1196.1,473.5 L1196.8,470.6 L1197.5,467.7 L1198.2,464.9 L1198.9,462.0 L1199.6,459.1 L1200.3,456.2 L1200.9,453.3 L1201.6,450.5 L1202.3,447.6 L1202.9,444.7 L1203.5,441.8 L1204.2,438.9 L1204.8,436.0 L1205.4,433.1 L1206.1,430.2 L1206.7,427.3 L1207.3,424.4 L1207.9,421.5 L1208.6,418.6 L1209.2,415.7 L1209.8,412.8 L1210.4,409.9 L1211.0,407.0 L1211.7,404.1 L1212.3,401.2 L1212.9,398.3 L1213.5,395.3 L1214.2,392.4 L1214.8,389.5 L1215.4,386.6 L1216.1,383.7 L1216.7,380.7 L1217.4,377.8 L1218.1,374.9 L1218.7,372.0 L1219.4,369.0 L1220.1,366.1 L1220.8,363.2 L1221.5,360.2 L1222.2,357.3 L1223.0,354.3 L1223.7,351.4 L1224.5,348.5 L1225.2,345.5 L1226.0,342.6 L1226.8,339.6 L1227.6,336.7 L1228.4,333.8 L1229.2,330.8 L1230.1,327.9 L1230.9,324.9 L1231.8,322.0 L1232.7,319.0 L1233.6,316.1 L1234.5,313.1 L1235.5,310.2 L1236.4,307.2 L1237.4,304.3 L1238.4,301.3 L1239.5,298.4 L1240.5,295.4 L1241.6,292.5 L1242.7,289.6 L1243.9,286.7 L1245.1,283.9 L1246.3,281.1 L1247.6,278.4 L1249.0,275.8 L1250.4,273.2 L1251.9,270.7 L1253.5,268.4 L1255.1,266.2 L1256.9,264.4 L1258.7,262.9 L1260.6,261.9 L1262.6,261.5 L1264.7,261.8 L1266.9,262.7 L1269.1,264.1 L1271.3,265.9 L1273.4,268.1 L1275.4,270.5 L1277.2,273.1 L1278.9,275.8 L1280.5,278.6 L1282.0,281.5 L1283.4,284.5 L1284.6,287.5 L1285.8,290.6 L1286.9,293.6 L1287.9,296.7 L1288.9,299.6 L1289.9,302.6 L1290.8,305.4 L1291.7,308.2 L1292.6,310.9 L1293.5,313.6 L1294.4,316.3 L1295.3,318.9 L1296.3,321.6 L1297.4,324.3 L1298.4,327.1 L1299.6,329.9 L1300.9,332.8 L1302.2,335.8 L1303.6,338.9 L1305.2,342.1 L1306.9,345.4 L1308.6,348.7 L1310.4,351.8 L1312.3,354.8 L1314.2,357.5 L1316.1,359.8 L1318.1,361.8 L1320.0,363.3 L1322.0,364.2 L1323.9,364.5 L1325.7,364.1 L1327.5,363.1 L1329.3,361.5 L1331.0,359.4 L1332.7,356.9 L1334.3,354.2 L1336.0,351.2 L1337.5,348.0 L1339.1,344.8 L1340.6,341.6 L1342.2,338.5 L1343.7,335.6 L1345.1,332.8 L1346.6,330.1 L1348.1,327.5 L1349.5,325.0 L1350.9,322.6 L1352.4,320.2 L1353.8,317.7 L1355.3,315.3 L1356.7,312.8 L1358.2,310.3 L1359.6,307.6 L1361.1,304.9 L1362.6,302.0 L1364.1,298.9 L1365.6,295.8 L1367.2,292.6 L1368.8,289.4 L1370.4,286.3 L1372.0,283.3 L1373.7,280.4 L1375.5,277.8 L1377.3,275.4 L1379.1,273.4 L1381.0,271.9 L1382.9,271.0 L1384.9,270.8 L1387.0,271.4 L1389.1,272.7 L1391.2,274.6 L1393.2,277.0 L1395.2,279.5 L1397.1,282.1 L1398.9,284.8 L1400.6,287.4 L1402.2,290.1 L1403.7,292.8 L1405.1,295.5 L1406.4,298.2 L1407.6,301.0 L1408.7,303.7 L1409.8,306.5 L1410.7,309.2 L1411.7,312.0 L1412.5,314.8 L1413.3,317.6 L1414.0,320.4 L1414.6,323.2 L1415.3,326.0 L1415.8,328.9 L1416.3,331.7 L1416.8,334.6 L1417.3,337.4 L1417.7,340.3 L1418.1,343.2 L1418.4,346.1 L1418.8,349.0 L1419.1,351.9 L1419.4,354.8 L1419.8,357.7 L1420.1,360.6 L1420.4,363.5 L1420.7,366.5 L1421.0,369.4 L1421.4,372.4 L1421.7,375.3 L1422.1,378.3 L1422.5,381.3 L1422.9,384.2 L1423.3,387.2 L1423.7,390.2 L1424.2,393.2 L1424.6,396.2 L1425.1,399.1 L1425.6,402.1 L1426.1,405.1 L1426.6,408.1 L1427.1,411.1 L1427.6,414.1 L1428.1,417.2 L1428.6,420.2 L1429.1,423.2 L1429.6,426.2 L1430.2,429.2 L1430.7,432.2 L1431.2,435.2 L1431.7,438.2 L1432.2,441.3 L1432.7,444.3 L1433.2,447.3 L1433.7,450.3 L1434.2,453.3 L1434.7,456.3 L1435.2,459.4 L1435.7,462.4 L1436.1,465.4 L1436.6,468.4 L1437.0,471.4 L1437.5,474.4 L1438.0,477.4 L1438.4,480.4 L1438.8,483.4 L1439.3,486.4 L1439.7,489.5 L1440.1,492.5 L1440.6,495.5 L1441.0,498.5 L1441.4,501.5 L1441.8,504.5 L1442.2,507.5 L1442.6,510.5 L1443.0,513.5 L1443.4,516.5 L1443.8,519.5 L1444.2,522.5 L1444.6,525.5 L1445.0,528.5 L1445.4,531.5 L1445.8,534.5 L1446.2,537.4 L1446.6,540.4 L1447.0,543.4 L1447.4,546.4 L1447.8,549.4 L1448.2,552.4 L1448.5,555.4 L1448.9,558.4 L1449.3,561.3 L1449.7,564.3 L1450.1,567.3 L1450.5,570.3 L1450.9,573.3 L1451.3,576.3 L1451.7,579.2 L1452.0,582.2 L1452.4,585.2 L1452.8,588.2 L1453.2,591.1 L1453.6,594.1 L1454.0,597.1 L1454.4,600.0 L1454.8,603.0 L1455.2,606.0 L1455.6,608.9 L1456.1,611.9 L1456.5,614.9 L1456.9,617.8 L1457.3,620.8 L1457.7,623.7 L1458.2,626.7 L1458.6,629.7 L1459.0,632.6 L1459.5,635.6 L1459.9,638.5 L1460.4,641.5 L1460.8,644.4 L1461.3,647.4 L1461.7,650.3 L1462.2,653.2 L1462.7,656.2 L1463.2,659.1 L1463.6,662.1 L1464.1,665.0 L1464.6,667.9 L1465.1,670.9 L1465.6,673.8 L1466.1,676.7 L1466.7,679.7 L1467.2,682.6 L1467.7,685.5 L1468.3,688.4 L1468.8,691.4 L1469.4,694.3 L1469.9,697.2 L1470.5,700.1 L1471.1,703.0 L1471.7,705.9 L1472.3,708.9 L1472.9,711.8 L1473.5,714.7 L1474.1,717.6 L1474.7,720.5 L1475.4,723.4 L1476.0,726.3 L1476.7,729.2 L1477.3,732.1 L1478.0,735.0 L1478.7,737.9 L1479.4,740.8 L1480.1,743.6 L1480.8,746.5 L1481.6,749.4 L1482.3,752.3 L1483.0,755.2 L1483.8,758.0 L1484.6,760.9 L1485.4,763.8 L1486.1,766.7 L1486.9,769.5 L1487.8,772.4 L1488.6,775.3 L1489.4,778.1 L1490.3,781.0 L1491.2,783.9 L1492.0,786.7 L1492.9,789.6 L1493.8,792.4 L1494.7,795.3 L1495.7,798.1 L1496.6,800.9 L1497.6,803.8 L1498.5,806.6 L1499.5,809.4 L1500.5,812.3 L1501.5,815.1 L1502.6,817.9 L1503.6,820.7 L1504.7,823.5 L1505.7,826.3 L1506.8,829.1 L1507.9,831.9 L1509.0,834.7 L1510.2,837.5 L1511.3,840.3 L1512.5,843.0 L1513.7,845.8 L1514.9,848.5 L1516.1,851.3 L1517.3,854.0 L1518.5,856.8 L1519.8,859.5 L1521.1,862.2 L1522.4,864.9 L1523.7,867.6 L1525.0,870.3 L1526.4,873.0 L1527.7,875.7 L1529.1,878.4 L1530.5,881.0 L1532.0,883.7 L1533.4,886.3 L1534.9,889.0 L1536.3,891.6 L1537.8,894.2 L1539.3,896.8 L1540.9,899.4 L1542.4,902.0 L1544.0,904.6 L1545.6,907.2 L1547.2,909.7 L1548.8,912.3 L1550.5,914.8 L1552.2,917.3 L1553.9,919.8 L1555.6,922.3 L1557.3,924.8 L1559.1,927.3 L1560.9,929.8 L1562.7,932.2 L1564.5,934.6 L1566.3,937.1 L1568.2,939.5 L1570.1,941.9 L1572.0,944.3 L1573.9,946.7 L1575.9,949.0 L1577.9,951.4 L1579.9,953.7 L1581.9,956.0 L1583.9,958.3 L1586.0,960.6 L1588.1,962.9 L1590.2,965.1 L1592.4,967.4 L1594.5,969.6 L1596.7,971.7 L1599.0,973.8 L1601.2,975.9 L1603.5,977.9 L1605.8,979.8 L1608.1,981.7 L1610.5,983.4 L1612.9,985.1 L1615.3,986.8 L1617.8,988.3 L1620.3,989.7 L1622.9,991.0 L1625.4,992.1 L1628.0,993.2 L1630.7,994.1 L1633.4,994.9 L1636.1,995.6 L1638.8,996.1 L1641.7,996.4 L1644.5,996.6 L1647.4,996.6 L1650.3,996.5 L1653.3,996.2 L1656.3,995.7 L1659.3,995.0 L1662.3,994.2 L1665.3,993.3 L1668.3,992.2 L1671.2,991.1 L1674.1,989.8 L1677.0,988.4 L1679.8,987.0 L1682.5,985.5 L1685.1,983.9 L1687.7,982.2 L1690.1,980.5 L1692.6,978.7 L1694.9,976.8 L1697.2,974.9 L1699.4,972.9 L1701.5,970.9 L1703.6,968.8 L1705.6,966.6 L1707.6,964.4 L1709.5,962.1 L1711.3,959.8 L1713.1,957.5 L1714.9,955.1 L1716.5,952.6 L1718.2,950.2 L1719.8,947.6 L1721.3,945.1 L1722.8,942.5 L1724.3,939.9 L1725.7,937.2 L1727.0,934.5 L1728.4,931.8 L1729.7,929.1 L1730.9,926.3 L1732.2,923.5 L1733.4,920.7 L1734.5,917.9 L1735.7,915.1 L1736.8,912.2 L1737.9,909.4 L1738.9,906.5 L1740.0,903.7 L1741.0,900.8 L1742.0,897.9 L1743.0,895.0 L1743.9,892.1 L1744.9,889.3 L1745.8,886.4 L1746.7,883.5 L1747.6,880.6 L1748.5,877.7 L1749.4,874.8 L1750.2,871.9 L1751.0,869.0 L1751.9,866.1 L1752.7,863.2 L1753.4,860.3 L1754.2,857.4 L1755.0,854.5 L1755.7,851.6 L1756.5,848.7 L1757.2,845.8 L1757.9,842.9 L1758.6,840.0 L1759.3,837.1 L1759.9,834.2 L1760.6,831.2 L1761.2,828.3 L1761.8,825.4 L1762.5,822.5 L1763.1,819.6 L1763.7,816.6 L1764.3,813.7 L1764.8,810.8 L1765.4,807.9 L1766.0,804.9 L1766.5,802.0 L1767.1,799.1 L1767.6,796.1 L1768.1,793.2 L1768.6,790.3 L1769.1,787.3 L1769.6,784.4 L1770.1,781.4 L1770.6,778.5 L1771.1,775.6 L1771.5,772.6 L1772.0,769.7 L1772.4,766.7 L1772.9,763.8 L1773.3,760.8 L1773.8,757.9 L1774.2,754.9 L1774.6,752.0 L1775.0,749.0 L1775.4,746.1 L1775.9,743.1 L1776.3,740.2 L1776.7,737.2 L1777.1,734.3 L1777.5,731.3 L1777.9,728.3 L1778.2,725.4 L1778.6,722.4 L1779.0,719.5 L1779.4,716.5 L1779.8,713.5 L1780.2,710.6 L1780.5,707.6 L1780.9,704.6 L1781.3,701.7 L1781.7,698.7 L1782.0,695.7 L1782.4,692.8 L1782.8,689.8 L1783.2,686.8 L1783.5,683.8 L1783.9,680.9 L1784.3,677.9 L1784.7,674.9 L1785.1,672.0 L1785.4,669.0 L1785.8,666.0 L1786.2,663.0 L1786.6,660.0 L1787.0,657.1 L1787.4,654.1 L1787.8,651.1 L1788.2,648.1 L1788.6,645.2 L1789.0,642.2 L1789.4,639.2 L1789.8,636.2 L1790.2,633.2 L1790.6,630.3 L1791.0,627.3 L1791.4,624.3 L1791.8,621.3 L1792.2,618.3 L1792.6,615.3 L1793.0,612.4 L1793.4,609.4 L1793.8,606.4 L1794.2,603.4 L1794.6,600.4 L1795.0,597.4 L1795.4,594.4 L1795.8,591.5 L1796.2,588.5 L1796.6,585.5 L1797.0,582.5 L1797.4,579.5 L1797.8,576.5 L1798.2,573.5 L1798.6,570.6 L1799.0,567.6 L1799.4,564.6 L1799.8,561.6 L1800.2,558.6 L1800.6,555.6 L1801.0,552.6 L1801.4,549.7 L1801.8,546.7 L1802.1,543.7 L1802.5,540.7 L1802.9,537.7 L1803.3,534.7 L1803.7,531.7 L1804.1,528.8 L1804.4,525.8 L1804.8,522.8 L1805.2,519.8 L1805.6,516.8 L1805.9,513.8 L1806.3,510.9 L1806.7,507.9 L1807.1,504.9 L1807.4,501.9 L1807.8,499.0 L1808.2,496.0 L1808.6,493.0 L1809.0,490.0 L1809.3,487.1 L1809.7,484.1 L1810.1,481.1 L1810.5,478.2 L1810.9,475.2 L1811.3,472.3 L1811.6,469.3 L1812.0,466.3 L1812.4,463.4 L1812.8,460.4 L1813.2,457.5 L1813.6,454.5 L1814.0,451.6 L1814.4,448.7 L1814.8,445.7 L1815.2,442.8 L1815.6,439.9 L1816.0,436.9 L1816.4,434.0 L1816.8,431.1 L1817.3,428.2 L1817.7,425.2 L1818.1,422.3 L1818.5,419.4 L1819.0,416.5 L1819.4,413.6 L1819.8,410.7 L1820.3,407.8 L1820.7,404.9 L1821.2,402.0 L1821.7,399.1 L1822.2,396.2 L1822.7,393.3 L1823.3,390.3 L1823.9,387.3 L1824.5,384.3 L1825.2,381.3 L1826.0,378.2 L1826.8,375.1 L1827.7,371.9 L1828.7,368.7 L1829.7,365.4 L1830.9,362.0 L1832.1,358.7 L1833.4,355.4 L1834.7,352.3 L1836.1,349.5 L1837.6,347.0 L1839.1,345.0 L1840.6,343.6 L1842.2,342.7 L1843.7,342.7 L1845.3,343.3 L1846.9,344.6 L1848.4,346.5 L1850.0,348.8 L1851.5,351.5 L1852.9,354.5 L1854.3,357.7 L1855.7,360.9 L1857.0,364.2 L1858.2,367.5 L1859.4,370.7 L1860.5,373.8 L1861.5,377.0 L1862.5,380.0 L1863.4,383.1 L1864.3,386.1 L1865.2,389.1 L1866.0,392.1 L1866.8,395.1 L1867.5,398.0 L1868.2,401.0 L1868.9,403.9 L1869.6,406.8 L1870.3,409.7 L1870.9,412.7 L1871.6,415.6 L1872.2,418.5 L1872.9,421.4 L1873.5,424.4 L1874.1,427.3 L1874.7,430.2 L1875.3,433.1 L1875.9,436.1 L1876.4,439.0 L1877.0,441.9 L1877.6,444.8 L1878.1,447.8 L1878.7,450.7 L1879.2,453.6 L1879.8,456.5 L1880.3,459.5 L1880.8,462.4 L1881.4,465.3 L1881.9,468.2 L1882.4,471.2 L1882.9,474.1 L1883.5,477.0 L1884.0,479.9 L1884.5,482.9 L1885.0,485.8 L1885.5,488.7 L1886.0,491.6 L1886.5,494.6 L1887.0,497.5 L1887.5,500.4 L1888.0,503.3 L1888.5,506.3 L1889.0,509.2 L1889.5,512.1 L1890.1,515.0 L1890.6,518.0 L1891.1,520.9 L1891.6,523.8 L1892.1,526.7 L1892.7,529.6 L1893.2,532.6 L1893.7,535.5 L1894.3,538.4 L1894.8,541.3 L1895.3,544.2 L1895.9,547.1 L1896.5,550.0 L1897.0,553.0 L1897.6,555.9 L1898.2,558.8 L1898.8,561.7 L1899.4,564.6 L1900.0,567.5 L1900.6,570.4 L1901.2,573.3 L1901.8,576.2 L1902.5,579.1 L1903.1,582.0 L1903.8,584.9 L1904.5,587.8 L1905.2,590.7 L1905.8,593.6 L1906.6,596.5 L1907.3,599.4 L1908.0,602.3 L1908.7,605.2 L1909.5,608.1 L1910.3,611.0 L1911.0,613.9 L1911.8,616.7 L1912.6,619.6 L1913.5,622.5 L1914.3,625.4 L1915.1,628.3 L1916.0,631.1 L1916.8,634.0 L1917.7,636.9 L1918.6,639.8 L1919.5,642.6 L1920.4,645.5 L1921.3,648.4 L1922.2,651.2 L1923.1,654.1 L1924.1,656.9 L1925.0,659.8 L1926.0,662.7 L1927.0,665.5 L1927.9,668.4 L1928.9,671.2 L1929.9,674.0 L1930.9,676.9 L1932.0,679.7 L1933.0,682.6 L1934.0,685.4 L1935.1,688.2 L1936.1,691.1 L1937.2,693.9 L1938.2,696.7 L1939.3,699.6 L1940.4,702.4 L1941.5,705.2 L1942.6,708.0 L1943.7,710.8 L1944.8,713.6 L1945.9,716.5 L1947.1,719.3 L1948.2,722.1 L1949.4,724.9 L1950.5,727.7 L1951.7,730.5 L1952.8,733.3 L1954.0,736.0 L1955.2,738.8 L1956.4,741.6 L1957.5,744.4 L1958.7,747.2 L1959.9,749.9 L1961.1,752.7 L1962.4,755.5 L1963.6,758.3 L1964.8,761.0 L1966.0,763.8 L1967.3,766.5 L1968.5,769.3 L1969.8,772.0 L1971.0,774.8 L1972.3,777.5 L1973.6,780.2 L1974.8,783.0 L1976.1,785.7 L1977.4,788.4 L1978.7,791.1 L1980.0,793.8 L1981.3,796.6 L1982.7,799.3 L1984.0,802.0 L1985.3,804.6 L1986.7,807.3 L1988.0,810.0 L1989.4,812.7 L1990.8,815.4 L1992.1,818.0 L1993.5,820.7 L1994.9,823.3 L1996.3,826.0 L1997.8,828.6 L1999.2,831.3 L2000.6,833.9 L2002.1,836.5 L2003.5,839.1 L2005.0,841.8 L2006.4,844.4 L2007.9,847.0 L2009.4,849.6 L2010.9,852.1 L2012.4,854.7 L2013.9,857.3 L2015.5,859.9 L2017.0,862.4 L2018.5,865.0 L2020.1,867.5 L2021.7,870.0 L2023.3,872.6 L2024.8,875.1 L2026.4,877.6 L2028.1,880.1 L2029.7,882.6 L2031.3,885.1 L2033.0,887.6 L2034.6,890.0 L2036.3,892.5 L2038.0,895.0 L2039.7,897.4 L2041.4,899.8 L2043.1,902.3 L2044.8,904.7 L2046.5,907.1 L2048.3,909.5 L2050.0,911.9 L2051.8,914.3 L2053.6,916.7 L2055.4,919.0 L2057.2,921.4 L2059.0,923.7 L2060.9,926.1 L2062.7,928.4 L2064.6,930.7 L2066.5,933.0 L2068.3,935.3 L2070.2,937.6 L2072.2,939.9 L2074.1,942.2 L2076.0,944.4 L2078.0,946.7 L2080.0,948.9 L2081.9,951.1 L2083.9,953.3 L2085.9,955.5 L2088.0,957.7 L2090.0,959.9 L2092.1,962.1 L2094.1,964.2 L2096.2,966.4 L2098.3,968.5 L2100.4,970.6 L2102.5,972.7 L2104.7,974.8 L2106.8,976.9 L2109.0,979.0 L2111.2,981.1 L2113.4,983.1 L2115.6,985.2 L2117.9,987.2 L2120.1,989.2 L2122.4,991.2 L2124.6,993.2 L2126.9,995.2 L2129.2,997.1 L2131.6,999.1 L2133.9,1001.0 L2136.3,1003.0 L2138.7,1004.9 L2141.1,1006.8 L2143.5,1008.7 L2145.9,1010.5 L2148.3,1012.4 L2150.8,1014.2 L2153.3,1016.0 L2155.8,1017.8 L2158.3,1019.6 L2160.8,1021.4 L2163.3,1023.1 L2165.9,1024.8 L2168.4,1026.5 L2171.0,1028.2 L2173.6,1029.8 L2176.2,1031.4 L2178.9,1033.0 L2181.5,1034.5 L2184.1,1036.0 L2186.8,1037.4 L2189.5,1038.8 L2192.2,1040.2 L2194.9,1041.5 L2197.6,1042.8 L2200.3,1044.1 L2203.1,1045.3 L2205.8,1046.4 L2208.6,1047.5 L2211.3,1048.5 L2214.1,1049.5 L2216.9,1050.4 L2219.7,1051.3 L2222.5,1052.1 L2225.3,1052.9 L2228.2,1053.6 L2231.0,1054.2 L2233.9,1054.7 L2236.7,1055.2 L2239.6,1055.7 L2242.5,1056.0 L2245.3,1056.3 L2248.2,1056.5 L2251.1,1056.7 L2254.0,1056.7 L2256.9,1056.7 L2259.9,1056.6 L2262.8,1056.5 L2265.7,1056.3 L2268.7,1056.0 L2271.6,1055.7 L2274.6,1055.3 L2277.5,1054.8 L2280.5,1054.4 L2283.4,1053.9 L2286.4,1053.3 L2289.4,1052.7 L2292.4,1052.1 L2295.3,1051.5 L2298.3,1050.8 L2301.3,1050.2 L2304.3,1049.5 L2307.3,1048.8 L2310.3,1048.1 L2313.3,1047.4 L2316.3,1046.7 L2319.3,1046.0 L2322.3,1045.3 L2325.3,1044.7 L2328.3,1044.0 L2331.3,1043.4 L2334.3,1042.8 L2337.3,1042.3 L2340.4,1041.7 L2343.4,1041.2 L2346.4,1040.8 L2349.4,1040.4 L2352.4,1040.0" stroke="#00ffff"/></g>
<g><line x1="524" y1="117.3" x2="647" y2="117.3" stroke="#000000" stroke-width="16.5" stroke-linecap="round"/><line x1="524" y1="195.4" x2="647" y2="195.4" stroke="#ff0000" stroke-width="16.5" stroke-linecap="round"/><line x1="524" y1="273.7" x2="647" y2="273.7" stroke="#00ff00" stroke-width="16.5" stroke-linecap="round"/><line x1="524" y1="353.3" x2="647" y2="353.3" stroke="#0000ff" stroke-width="16.5" stroke-linecap="round"/><line x1="524" y1="431.6" x2="647" y2="431.6" stroke="#00ffff" stroke-width="16.5" stroke-linecap="round"/></g>
<line x1="548.5" y1="549.5" x2="622" y2="688" stroke="#000" stroke-width="8.5" stroke-linecap="round"/><polygon points="604.5,691 632,676.5 638.5,723.5" fill="#000" stroke="#000" stroke-width="5" stroke-linejoin="round"/>
<g font-family="'Liberation Serif','Times New Roman',serif" fill="#000"><text transform="translate(324.09,220.20) scale(0.9678,1.0295)" font-size="134">12</text>
<text transform="translate(387.93,579.89) scale(0.9667,1.0100)" font-size="134">9</text>
<text transform="translate(386.00,939.89) scale(0.9667,1.0100)" font-size="134">6</text>
<text transform="translate(386.53,1298.99) scale(0.8946,1.0133)" font-size="134">3</text>
<text transform="translate(508.23,1507.90) scale(0.9545,1.0000)" font-size="134">-0.5</text>
<text transform="translate(1199.85,1507.81) scale(0.9707,0.9956)" font-size="134">0.0</text>
<text transform="translate(1866.95,1507.90) scale(0.9497,0.9989)" font-size="134">0.5</text>
<text transform="translate(1232.71,211.90) scale(0.8405,1.0250)" font-size="134">1</text>
<text transform="translate(1359.44,217.90) scale(1.0593,1.0227)" font-size="134">2</text>
<text transform="translate(1811.72,296.18) scale(0.8964,1.0167)" font-size="134">3</text>
<text transform="translate(893.51,1705.85) scale(0.9990,0.9917)" font-size="200">Potential (V)</text>
<text transform="translate(223.00,1214.72) rotate(-90) scale(0.9904,1.0000)" font-size="200">Current (&#956;A)</text>
<text transform="translate(658.66,135.05) scale(1.0096,1.0040)" font-size="54">Sample</text>
<text transform="translate(658.66,213.05) scale(1.0096,1.0040)" font-size="54">Sample</text>
<text transform="translate(832.42,215.72) scale(1.1280,1.1200)" font-size="54">+</text>
<text transform="translate(877.79,213.30) scale(1.0033,1.0111)" font-size="54">7.5</text>
<text transform="translate(953.03,209.22) scale(0.7333,0.7318)" font-size="54">&#215;</text>
<text transform="translate(975.89,213.30) scale(0.9617,1.0361)" font-size="54">10</text>
<text transform="translate(1027.97,184.00) scale(0.9296,0.9625)" font-size="35">-6</text>
<text transform="translate(1061.71,213.60) scale(0.9915,1.0184)" font-size="54">mol</text>
<text transform="translate(1157.80,212.90) scale(1.1000,1.0000)" font-size="54">L</text>
<text transform="translate(1191.94,184.30) scale(0.8577,0.9750)" font-size="35">-1</text>
<text transform="translate(658.66,292.25) scale(1.0096,1.0040)" font-size="54">Sample</text>
<text transform="translate(832.42,294.92) scale(1.1280,1.1200)" font-size="54">+</text>
<text transform="translate(877.79,292.50) scale(1.0033,1.0111)" font-size="54">1.5</text>
<text transform="translate(953.03,288.42) scale(0.7333,0.7318)" font-size="54">&#215;</text>
<text transform="translate(975.89,292.50) scale(0.9617,1.0361)" font-size="54">10</text>
<text transform="translate(1027.97,263.20) scale(0.9296,0.9625)" font-size="35">-5</text>
<text transform="translate(1061.71,292.80) scale(0.9915,1.0184)" font-size="54">mol</text>
<text transform="translate(1157.80,292.10) scale(1.1000,1.0000)" font-size="54">L</text>
<text transform="translate(1191.94,263.50) scale(0.8577,0.9750)" font-size="35">-1</text>
<text transform="translate(658.66,371.05) scale(1.0096,1.0040)" font-size="54">Sample</text>
<text transform="translate(832.42,373.72) scale(1.1280,1.1200)" font-size="54">+</text>
<text transform="translate(877.79,371.30) scale(1.0033,1.0111)" font-size="54">2.5</text>
<text transform="translate(953.03,367.22) scale(0.7333,0.7318)" font-size="54">&#215;</text>
<text transform="translate(975.89,371.30) scale(0.9617,1.0361)" font-size="54">10</text>
<text transform="translate(1027.97,342.00) scale(0.9296,0.9625)" font-size="35">-5</text>
<text transform="translate(1061.71,371.60) scale(0.9915,1.0184)" font-size="54">mol</text>
<text transform="translate(1157.80,370.90) scale(1.1000,1.0000)" font-size="54">L</text>
<text transform="translate(1191.94,342.30) scale(0.8577,0.9750)" font-size="35">-1</text>
<text transform="translate(658.66,450.05) scale(1.0096,1.0040)" font-size="54">Sample</text>
<text transform="translate(832.42,452.72) scale(1.1280,1.1200)" font-size="54">+</text>
<text transform="translate(877.79,450.30) scale(1.0033,1.0111)" font-size="54">3.5</text>
<text transform="translate(953.03,446.22) scale(0.7333,0.7318)" font-size="54">&#215;</text>
<text transform="translate(975.89,450.30) scale(0.9617,1.0361)" font-size="54">10</text>
<text transform="translate(1027.97,421.00) scale(0.9296,0.9625)" font-size="35">-5</text>
<text transform="translate(1061.71,450.60) scale(0.9915,1.0184)" font-size="54">mol</text>
<text transform="translate(1157.80,449.90) scale(1.1000,1.0000)" font-size="54">L</text>
<text transform="translate(1191.94,421.30) scale(0.8577,0.9750)" font-size="35">-1</text></g>
</svg>
</body></html>
